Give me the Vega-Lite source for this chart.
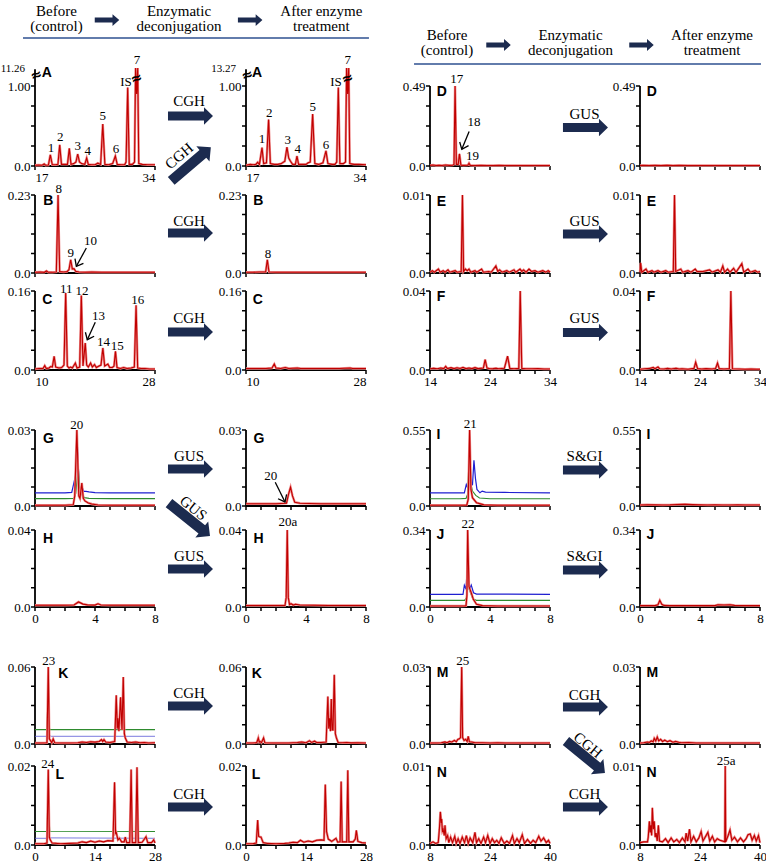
{"$schema":"https://vega.github.io/schema/vega-lite/v6.json","background":"white","padding":0,"bounds":"flush","spacing":0,"align":"each","columns":7,
"config":{"view":{"stroke":null},"rule":{"clip":false},"axis":{"domainColor":"#000","domainWidth":1.8,"tickColor":"#000","tickWidth":1.5,"tickSize":4,"labelFont":"Liberation Serif","labelFontSize":13,"labelColor":"#000","grid":false,"labelPadding":5,"labelOverlap":false,"labelFlush":false,"labelBound":false}},
"concat":[
{"width":120,"height":83,"data":{"values":[{}]},"layer":[
{"mark":{"type":"rule","color":"#2e5090","strokeWidth":1.6},"encoding":{"x":{"datum":-0.1,"scale":{"domain":[0,1]},"axis":null},"x2":{"datum":2.783},"y":{"datum":0.578,"scale":{"domain":[0,1]},"axis":null}}},
{"mark":{"type":"text","text":["Before","(control)"],"font":"Liberation Serif","fontSize":15,"lineHeight":15,"align":"center","baseline":"top"},"encoding":{"x":{"datum":0.179,"scale":{"domain":[0,1]},"axis":null},"y":{"datum":0.99,"scale":{"domain":[0,1]},"axis":null}}},
{"mark":{"type":"point","shape":"M-1,-0.2L0.45,-0.2L0.45,-0.48L1,0L0.45,0.48L0.45,0.2L-1,0.2Z","size":600,"filled":true,"opacity":1,"color":"#1c2b4f","strokeWidth":0},"encoding":{"x":{"datum":0.6,"scale":{"domain":[0,1]},"axis":null},"y":{"datum":0.795,"scale":{"domain":[0,1]},"axis":null}}},
{"mark":{"type":"text","text":["Enzymatic","deconjugation"],"font":"Liberation Serif","fontSize":15,"lineHeight":15,"align":"center","baseline":"top"},"encoding":{"x":{"datum":1.2,"scale":{"domain":[0,1]},"axis":null},"y":{"datum":0.99,"scale":{"domain":[0,1]},"axis":null}}},
{"mark":{"type":"point","shape":"M-1,-0.2L0.45,-0.2L0.45,-0.48L1,0L0.45,0.48L0.45,0.2L-1,0.2Z","size":600,"filled":true,"opacity":1,"color":"#1c2b4f","strokeWidth":0},"encoding":{"x":{"datum":1.793,"scale":{"domain":[0,1]},"axis":null},"y":{"datum":0.795,"scale":{"domain":[0,1]},"axis":null}}},
{"mark":{"type":"text","text":["After enzyme","treatment"],"font":"Liberation Serif","fontSize":15,"lineHeight":15,"align":"center","baseline":"top"},"encoding":{"x":{"datum":2.386,"scale":{"domain":[0,1]},"axis":null},"y":{"datum":0.99,"scale":{"domain":[0,1]},"axis":null}}}
]},
{"width":91,"height":1,"data":{"values":[{}]},"mark":{"type":"point","opacity":0}},
{"width":120,"height":1,"data":{"values":[{}]},"mark":{"type":"point","opacity":0}},
{"width":64,"height":83,"data":{"values":[{}]},"mark":{"type":"point","opacity":0}},
{"width":120,"height":83,"data":{"values":[{}]},"layer":[
{"mark":{"type":"rule","color":"#2e5090","strokeWidth":1.6},"encoding":{"x":{"datum":-0.133,"scale":{"domain":[0,1]},"axis":null},"x2":{"datum":2.758},"y":{"datum":0.265,"scale":{"domain":[0,1]},"axis":null}}},
{"mark":{"type":"text","text":["Before","(control)"],"font":"Liberation Serif","fontSize":15,"lineHeight":15,"align":"center","baseline":"top"},"encoding":{"x":{"datum":0.142,"scale":{"domain":[0,1]},"axis":null},"y":{"datum":0.694,"scale":{"domain":[0,1]},"axis":null}}},
{"mark":{"type":"point","shape":"M-1,-0.2L0.45,-0.2L0.45,-0.48L1,0L0.45,0.48L0.45,0.2L-1,0.2Z","size":600,"filled":true,"opacity":1,"color":"#1c2b4f","strokeWidth":0},"encoding":{"x":{"datum":0.571,"scale":{"domain":[0,1]},"axis":null},"y":{"datum":0.494,"scale":{"domain":[0,1]},"axis":null}}},
{"mark":{"type":"text","text":["Enzymatic","deconjugation"],"font":"Liberation Serif","fontSize":15,"lineHeight":15,"align":"center","baseline":"top"},"encoding":{"x":{"datum":1.171,"scale":{"domain":[0,1]},"axis":null},"y":{"datum":0.694,"scale":{"domain":[0,1]},"axis":null}}},
{"mark":{"type":"point","shape":"M-1,-0.2L0.45,-0.2L0.45,-0.48L1,0L0.45,0.48L0.45,0.2L-1,0.2Z","size":600,"filled":true,"opacity":1,"color":"#1c2b4f","strokeWidth":0},"encoding":{"x":{"datum":1.7625,"scale":{"domain":[0,1]},"axis":null},"y":{"datum":0.494,"scale":{"domain":[0,1]},"axis":null}}},
{"mark":{"type":"text","text":["After enzyme","treatment"],"font":"Liberation Serif","fontSize":15,"lineHeight":15,"align":"center","baseline":"top"},"encoding":{"x":{"datum":2.35,"scale":{"domain":[0,1]},"axis":null},"y":{"datum":0.694,"scale":{"domain":[0,1]},"axis":null}}}
]},
{"width":90,"height":1,"data":{"values":[{}]},"mark":{"type":"point","opacity":0}},
{"width":120,"height":1,"data":{"values":[{}]},"mark":{"type":"point","opacity":0}},

{"width":120,"height":80,"data":{"values":[{"x":17,"y":0.01},{"x":17.5,"y":0.012},{"x":18.0,"y":0.01},{"x":18.3,"y":0.025},{"x":18.5,"y":0.01},{"x":18.9,"y":0.012},{"x":19.17,"y":0.14},{"x":19.45,"y":0.015},{"x":19.9,"y":0.015},{"x":20.25,"y":0.02},{"x":20.5,"y":0.265},{"x":20.75,"y":0.02},{"x":21.2,"y":0.02},{"x":21.6,"y":0.02},{"x":21.86,"y":0.22},{"x":22.1,"y":0.02},{"x":22.5,"y":0.03},{"x":22.8,"y":0.05},{"x":23.05,"y":0.15},{"x":23.3,"y":0.05},{"x":23.6,"y":0.03},{"x":24.05,"y":0.02},{"x":24.32,"y":0.1},{"x":24.55,"y":0.02},{"x":25.0,"y":0.015},{"x":25.5,"y":0.015},{"x":25.9,"y":0.035},{"x":26.3,"y":0.02},{"x":26.6,"y":0.525},{"x":26.9,"y":0.02},{"x":27.4,"y":0.015},{"x":28.0,"y":0.03},{"x":28.38,"y":0.125},{"x":28.65,"y":0.02},{"x":29.2,"y":0.015},{"x":29.7,"y":0.015},{"x":29.9,"y":0.05},{"x":30.13,"y":0.98},{"x":30.35,"y":0.02},{"x":30.8,"y":0.02},{"x":31.1,"y":0.05},{"x":31.25,"y":1.225},{"x":31.4,"y":0.9},{"x":31.55,"y":1.225},{"x":31.7,"y":0.03},{"x":32.2,"y":0.02},{"x":33,"y":0.015},{"x":34,"y":0.015}]},
"layer":[
{"data":{"values":[{}]},"mark":{"type":"rule","color":"#000","strokeWidth":1.8,"clip":false},"encoding":{"x":{"datum":17},"x2":{"datum":17},"y":{"datum":0},"y2":{"datum":1.21}}},
{"data":{"values":[{}]},"mark":{"type":"rule","color":"#000","strokeWidth":1.8,"clip":false},"encoding":{"x":{"datum":17},"x2":{"datum":34},"y":{"datum":0},"y2":{"datum":0}}},
{"data":{"values":[{"v":0},{"v":0.25},{"v":0.5},{"v":0.75},{"v":1}]},"mark":{"type":"rule","color":"#000","strokeWidth":1.5,"clip":false},"encoding":{"y":{"field":"v","type":"quantitative"},"y2":{"field":"v"},"x":{"datum":16.43},"x2":{"datum":17}}},
{"data":{"values":[{"v":17},{"v":34}]},"mark":{"type":"rule","color":"#000","strokeWidth":1.5,"clip":false},"encoding":{"x":{"field":"v","type":"quantitative"},"x2":{"field":"v"},"y":{"datum":0},"y2":{"datum":-0.05}}},
{"mark":{"type":"line","color":"#ee8a8a","strokeWidth":2.4,"clip":false},"encoding":{"x":{"field":"x","type":"quantitative","scale":{"domain":[17,34],"nice":false,"zero":false},"axis":{"title":null,"domain":false,"ticks":false,"labelPadding":5,"labelOverlap":false,"values":[17,34],"labelFlush":true}},"y":{"field":"y","type":"quantitative","scale":{"domain":[0,1],"nice":false},"axis":{"title":null,"domain":false,"ticks":false,"labelPadding":5,"labelOverlap":false,"values":[0,0.25,0.5,0.75,1],"labelExpr":"datum.value == 0 ? '0.0' : datum.value == 0.5 ? '0.50' : datum.value == 1 ? '1.00' : ''"}}}},
{"mark":{"type":"line","color":"#c00000","strokeWidth":1.1,"clip":false},"encoding":{"x":{"field":"x","type":"quantitative"},"y":{"field":"y","type":"quantitative"}}},
{"data":{"values":[{"t":"A"}]},"mark":{"type":"text","font":"Liberation Sans","fontWeight":"bold","fontSize":14,"align":"left","baseline":"alphabetic"},"encoding":{"x":{"datum":17.95},"y":{"datum":1.11},"text":{"field":"t"}}},
{"data":{"values":[{"x":19.27,"y":0.225,"label":"1"},{"x":20.59,"y":0.36,"label":"2"},{"x":23.05,"y":0.246,"label":"3"},{"x":24.46,"y":0.19,"label":"4"},{"x":26.59,"y":0.62,"label":"5"},{"x":28.475,"y":0.216,"label":"6"},{"x":29.89,"y":1.046,"label":"IS"},{"x":31.45,"y":1.33,"label":"7"}]},"mark":{"type":"text","font":"Liberation Serif","fontSize":13,"align":"center","baseline":"middle"},"encoding":{"x":{"field":"x","type":"quantitative"},"y":{"field":"y","type":"quantitative"},"text":{"field":"label"}}},
{"data":{"values":[{"t":"≈"}]},"mark":{"type":"text","font":"DejaVu Sans","fontSize":14,"fontWeight":"bold","angle":340,"align":"center","baseline":"middle"},"encoding":{"x":{"datum":17.2},"y":{"datum":1.13},"text":{"field":"t"}}},
{"data":{"values":[{"t":"≈"}]},"mark":{"type":"text","font":"DejaVu Sans","fontSize":14,"fontWeight":"bold","angle":340,"align":"center","baseline":"middle"},"encoding":{"x":{"datum":31.4},"y":{"datum":1.09},"text":{"field":"t"}}},
{"data":{"values":[{"t":"11.26"}]},"mark":{"type":"text","font":"Liberation Serif","fontSize":11,"align":"right","baseline":"middle"},"encoding":{"x":{"datum":15.6},"y":{"datum":1.21},"text":{"field":"t"}}}
]},
{"width":91,"height":80,"data":{"values":[{}]},"layer":[
{"mark":{"type":"point","shape":"M-1,-0.2L0.6,-0.2L0.6,-0.39L1,0L0.6,0.39L0.6,0.2L-1,0.2Z","size":2025,"filled":true,"opacity":1,"color":"#1c2b4f","strokeWidth":0},"encoding":{"x":{"datum":0.39,"scale":{"domain":[0,1]},"axis":null},"y":{"datum":0.625,"scale":{"domain":[0,1]},"axis":null}}},
{"mark":{"type":"text","text":"CGH","font":"Liberation Serif","fontSize":15,"align":"center","baseline":"middle"},"encoding":{"x":{"datum":0.374,"scale":{"domain":[0,1]},"axis":null},"y":{"datum":0.8125,"scale":{"domain":[0,1]},"axis":null}}},
{"mark":{"type":"point","shape":"M-1,-0.2L0.6,-0.2L0.6,-0.39L1,0L0.6,0.39L0.6,0.2L-1,0.2Z","size":2704,"angle":319.6,"filled":true,"opacity":1,"color":"#1c2b4f","strokeWidth":0},"encoding":{"x":{"datum":0.396,"scale":{"domain":[0,1]},"axis":null},"y":{"datum":0.025,"scale":{"domain":[0,1]},"axis":null}}},
{"mark":{"type":"text","text":"CGH","angle":319.6,"font":"Liberation Serif","fontSize":15,"align":"center","baseline":"middle"},"encoding":{"x":{"datum":0.264,"scale":{"domain":[0,1]},"axis":null},"y":{"datum":0.125,"scale":{"domain":[0,1]},"axis":null}}}
]},
{"width":120,"height":80,"data":{"values":[{"x":17,"y":0.01},{"x":17.6,"y":0.02},{"x":18.0,"y":0.015},{"x":18.4,"y":0.02},{"x":18.65,"y":0.045},{"x":18.9,"y":0.02},{"x":19.27,"y":0.23},{"x":19.5,"y":0.03},{"x":19.9,"y":0.04},{"x":20.2,"y":0.58},{"x":20.45,"y":0.03},{"x":21.0,"y":0.02},{"x":21.5,"y":0.02},{"x":22.0,"y":0.03},{"x":22.5,"y":0.06},{"x":22.8,"y":0.235},{"x":23.05,"y":0.1},{"x":23.3,"y":0.06},{"x":23.6,"y":0.02},{"x":24.0,"y":0.02},{"x":24.22,"y":0.125},{"x":24.45,"y":0.02},{"x":25.0,"y":0.02},{"x":25.5,"y":0.02},{"x":25.8,"y":0.04},{"x":26.1,"y":0.05},{"x":26.44,"y":0.65},{"x":26.75,"y":0.03},{"x":27.3,"y":0.02},{"x":27.9,"y":0.04},{"x":28.33,"y":0.19},{"x":28.6,"y":0.03},{"x":29.2,"y":0.02},{"x":29.6,"y":0.02},{"x":29.85,"y":0.05},{"x":30.08,"y":0.98},{"x":30.3,"y":0.03},{"x":30.8,"y":0.03},{"x":31.1,"y":0.05},{"x":31.25,"y":1.225},{"x":31.4,"y":0.9},{"x":31.55,"y":1.225},{"x":31.7,"y":0.03},{"x":32.3,"y":0.02},{"x":33,"y":0.02},{"x":34,"y":0.015}]},
"layer":[
{"data":{"values":[{}]},"mark":{"type":"rule","color":"#000","strokeWidth":1.8,"clip":false},"encoding":{"x":{"datum":17},"x2":{"datum":17},"y":{"datum":0},"y2":{"datum":1.21}}},
{"data":{"values":[{}]},"mark":{"type":"rule","color":"#000","strokeWidth":1.8,"clip":false},"encoding":{"x":{"datum":17},"x2":{"datum":34},"y":{"datum":0},"y2":{"datum":0}}},
{"data":{"values":[{"v":0},{"v":0.25},{"v":0.5},{"v":0.75},{"v":1}]},"mark":{"type":"rule","color":"#000","strokeWidth":1.5,"clip":false},"encoding":{"y":{"field":"v","type":"quantitative"},"y2":{"field":"v"},"x":{"datum":16.43},"x2":{"datum":17}}},
{"data":{"values":[{"v":17},{"v":34}]},"mark":{"type":"rule","color":"#000","strokeWidth":1.5,"clip":false},"encoding":{"x":{"field":"v","type":"quantitative"},"x2":{"field":"v"},"y":{"datum":0},"y2":{"datum":-0.05}}},
{"mark":{"type":"line","color":"#ee8a8a","strokeWidth":2.4,"clip":false},"encoding":{"x":{"field":"x","type":"quantitative","scale":{"domain":[17,34],"nice":false,"zero":false},"axis":{"title":null,"domain":false,"ticks":false,"labelPadding":5,"labelOverlap":false,"values":[17,34],"labelFlush":true}},"y":{"field":"y","type":"quantitative","scale":{"domain":[0,1],"nice":false},"axis":{"title":null,"domain":false,"ticks":false,"labelPadding":5,"labelOverlap":false,"values":[0,0.25,0.5,0.75,1],"labelExpr":"datum.value == 0 ? '0.0' : datum.value == 0.5 ? '0.50' : datum.value == 1 ? '1.00' : ''"}}}},
{"mark":{"type":"line","color":"#c00000","strokeWidth":1.1,"clip":false},"encoding":{"x":{"field":"x","type":"quantitative"},"y":{"field":"y","type":"quantitative"}}},
{"data":{"values":[{"t":"A"}]},"mark":{"type":"text","font":"Liberation Sans","fontWeight":"bold","fontSize":14,"align":"left","baseline":"alphabetic"},"encoding":{"x":{"datum":17.85},"y":{"datum":1.11},"text":{"field":"t"}}},
{"data":{"values":[{"x":19.27,"y":0.3375,"label":"1"},{"x":20.3,"y":0.66,"label":"2"},{"x":22.9,"y":0.33,"label":"3"},{"x":24.32,"y":0.216,"label":"4"},{"x":26.45,"y":0.7375,"label":"5"},{"x":28.33,"y":0.266,"label":"6"},{"x":29.75,"y":1.046,"label":"IS"},{"x":31.4,"y":1.33,"label":"7"}]},"mark":{"type":"text","font":"Liberation Serif","fontSize":13,"align":"center","baseline":"middle"},"encoding":{"x":{"field":"x","type":"quantitative"},"y":{"field":"y","type":"quantitative"},"text":{"field":"label"}}},
{"data":{"values":[{"t":"≈"}]},"mark":{"type":"text","font":"DejaVu Sans","fontSize":14,"fontWeight":"bold","angle":340,"align":"center","baseline":"middle"},"encoding":{"x":{"datum":17.2},"y":{"datum":1.13},"text":{"field":"t"}}},
{"data":{"values":[{"t":"≈"}]},"mark":{"type":"text","font":"DejaVu Sans","fontSize":14,"fontWeight":"bold","angle":340,"align":"center","baseline":"middle"},"encoding":{"x":{"datum":31.4},"y":{"datum":1.09},"text":{"field":"t"}}},
{"data":{"values":[{"t":"13.27"}]},"mark":{"type":"text","font":"Liberation Serif","fontSize":11,"align":"right","baseline":"middle"},"encoding":{"x":{"datum":15.6},"y":{"datum":1.21},"text":{"field":"t"}}}
]},
{"width":64,"height":109,"data":{"values":[{}]},"mark":{"type":"point","opacity":0}},
{"width":120,"height":80,"data":{"values":[{"x":14,"y":0.004},{"x":14.5,"y":0.006},{"x":15,"y":0.003},{"x":15.5,"y":0.005},{"x":16,"y":0.003},{"x":16.6,"y":0.006},{"x":17.2,"y":0.004},{"x":17.8,"y":0.005},{"x":18.0,"y":0.01},{"x":18.18,"y":0.49},{"x":18.4,"y":0.01},{"x":18.7,"y":0.01},{"x":18.91,"y":0.074},{"x":19.15,"y":0.005},{"x":19.6,"y":0.004},{"x":20.3,"y":0.005},{"x":20.5,"y":0.017},{"x":20.7,"y":0.004},{"x":21.5,"y":0.003},{"x":22.5,"y":0.004},{"x":23.5,"y":0.003},{"x":24.5,"y":0.003},{"x":25.5,"y":0.004},{"x":26.5,"y":0.003},{"x":28,"y":0.003},{"x":30,"y":0.003},{"x":32,"y":0.003},{"x":34,"y":0.003}]},
"layer":[
{"data":{"values":[{}]},"mark":{"type":"rule","color":"#000","strokeWidth":1.8,"clip":false},"encoding":{"x":{"datum":14},"x2":{"datum":14},"y":{"datum":0},"y2":{"datum":0.49}}},
{"data":{"values":[{}]},"mark":{"type":"rule","color":"#000","strokeWidth":1.8,"clip":false},"encoding":{"x":{"datum":14},"x2":{"datum":34},"y":{"datum":0},"y2":{"datum":0}}},
{"data":{"values":[{"v":0},{"v":0.1225},{"v":0.245},{"v":0.3675},{"v":0.49}]},"mark":{"type":"rule","color":"#000","strokeWidth":1.5,"clip":false},"encoding":{"y":{"field":"v","type":"quantitative"},"y2":{"field":"v"},"x":{"datum":13.333},"x2":{"datum":14}}},
{"data":{"values":[{"v":14},{"v":16.5},{"v":19},{"v":21.5},{"v":24},{"v":26.5},{"v":29},{"v":31.5},{"v":34}]},"mark":{"type":"rule","color":"#000","strokeWidth":1.5,"clip":false},"encoding":{"x":{"field":"v","type":"quantitative"},"x2":{"field":"v"},"y":{"datum":0},"y2":{"datum":-0.0245}}},
{"mark":{"type":"line","color":"#ee8a8a","strokeWidth":2.4,"clip":false},"encoding":{"x":{"field":"x","type":"quantitative","scale":{"domain":[14,34],"nice":false,"zero":false},"axis":{"title":null,"domain":false,"ticks":false,"labelPadding":5,"labelOverlap":false,"values":[14,16.5,19,21.5,24,26.5,29,31.5,34],"labels":false}},"y":{"field":"y","type":"quantitative","scale":{"domain":[0,0.49],"nice":false},"axis":{"title":null,"domain":false,"ticks":false,"labelPadding":5,"labelOverlap":false,"values":[0,0.1225,0.245,0.3675,0.49],"labelExpr":"datum.value == 0 ? '0.0' : datum.value > 0.48 ? '0.49' : ''"}}}},
{"mark":{"type":"line","color":"#c00000","strokeWidth":1.1,"clip":false},"encoding":{"x":{"field":"x","type":"quantitative"},"y":{"field":"y","type":"quantitative"}}},
{"data":{"values":[{"t":"D"}]},"mark":{"type":"text","font":"Liberation Sans","fontWeight":"bold","fontSize":14,"align":"left","baseline":"alphabetic"},"encoding":{"x":{"datum":15.12},"y":{"datum":0.43},"text":{"field":"t"}}},
{"data":{"values":[{"x":18.46,"y":0.532,"label":"17"},{"x":21.35,"y":0.271,"label":"18"},{"x":21.08,"y":0.064,"label":"19"}]},"mark":{"type":"text","font":"Liberation Serif","fontSize":13,"align":"center","baseline":"middle"},"encoding":{"x":{"field":"x","type":"quantitative"},"y":{"field":"y","type":"quantitative"},"text":{"field":"label"}}},
{"data":{"values":[{}]},"mark":{"type":"rule","color":"#000","strokeWidth":1.3,"clip":false},"encoding":{"x":{"datum":20.52},"y":{"datum":0.212},"x2":{"datum":19.3},"y2":{"datum":0.102}}},
{"data":{"values":[{}]},"mark":{"type":"point","shape":"M-1,-0.8L0,0L-1,0.8","size":144,"filled":false,"color":"#000","strokeWidth":1.3,"opacity":1,"angle":112.9},"encoding":{"x":{"datum":19.3},"y":{"datum":0.102}}}
]},
{"width":90,"height":80,"data":{"values":[{}]},"layer":[
{"mark":{"type":"point","shape":"M-1,-0.2L0.6,-0.2L0.6,-0.39L1,0L0.6,0.39L0.6,0.2L-1,0.2Z","size":2025,"filled":true,"opacity":1,"color":"#1c2b4f","strokeWidth":0},"encoding":{"x":{"datum":0.394,"scale":{"domain":[0,1]},"axis":null},"y":{"datum":0.481,"scale":{"domain":[0,1]},"axis":null}}},
{"mark":{"type":"text","text":"GUS","font":"Liberation Serif","fontSize":15,"align":"center","baseline":"middle"},"encoding":{"x":{"datum":0.383,"scale":{"domain":[0,1]},"axis":null},"y":{"datum":0.649,"scale":{"domain":[0,1]},"axis":null}}}
]},
{"width":120,"height":80,"data":{"values":[{"x":14,"y":0.003},{"x":14.5,"y":0.004},{"x":15.5,"y":0.003},{"x":16.5,"y":0.004},{"x":17.5,"y":0.003},{"x":18.5,"y":0.005},{"x":19.5,"y":0.003},{"x":20.5,"y":0.004},{"x":22,"y":0.003},{"x":24,"y":0.003},{"x":26,"y":0.003},{"x":28,"y":0.003},{"x":30,"y":0.003},{"x":32,"y":0.003},{"x":34,"y":0.003}]},
"layer":[
{"data":{"values":[{}]},"mark":{"type":"rule","color":"#000","strokeWidth":1.8,"clip":false},"encoding":{"x":{"datum":14},"x2":{"datum":14},"y":{"datum":0},"y2":{"datum":0.49}}},
{"data":{"values":[{}]},"mark":{"type":"rule","color":"#000","strokeWidth":1.8,"clip":false},"encoding":{"x":{"datum":14},"x2":{"datum":34},"y":{"datum":0},"y2":{"datum":0}}},
{"data":{"values":[{"v":0},{"v":0.1225},{"v":0.245},{"v":0.3675},{"v":0.49}]},"mark":{"type":"rule","color":"#000","strokeWidth":1.5,"clip":false},"encoding":{"y":{"field":"v","type":"quantitative"},"y2":{"field":"v"},"x":{"datum":13.333},"x2":{"datum":14}}},
{"data":{"values":[{"v":14},{"v":16.5},{"v":19},{"v":21.5},{"v":24},{"v":26.5},{"v":29},{"v":31.5},{"v":34}]},"mark":{"type":"rule","color":"#000","strokeWidth":1.5,"clip":false},"encoding":{"x":{"field":"v","type":"quantitative"},"x2":{"field":"v"},"y":{"datum":0},"y2":{"datum":-0.0245}}},
{"mark":{"type":"line","color":"#ee8a8a","strokeWidth":2.4,"clip":false},"encoding":{"x":{"field":"x","type":"quantitative","scale":{"domain":[14,34],"nice":false,"zero":false},"axis":{"title":null,"domain":false,"ticks":false,"labelPadding":5,"labelOverlap":false,"values":[14,16.5,19,21.5,24,26.5,29,31.5,34],"labels":false}},"y":{"field":"y","type":"quantitative","scale":{"domain":[0,0.49],"nice":false},"axis":{"title":null,"domain":false,"ticks":false,"labelPadding":5,"labelOverlap":false,"values":[0,0.1225,0.245,0.3675,0.49],"labelExpr":"datum.value == 0 ? '0.0' : datum.value > 0.48 ? '0.49' : ''"}}}},
{"mark":{"type":"line","color":"#c00000","strokeWidth":1.1,"clip":false},"encoding":{"x":{"field":"x","type":"quantitative"},"y":{"field":"y","type":"quantitative"}}},
{"data":{"values":[{"t":"D"}]},"mark":{"type":"text","font":"Liberation Sans","fontWeight":"bold","fontSize":14,"align":"left","baseline":"alphabetic"},"encoding":{"x":{"datum":15.12},"y":{"datum":0.43},"text":{"field":"t"}}}
]},

{"width":120,"height":78,"data":{"values":[{"x":10,"y":0.002},{"x":10.8,"y":0.003},{"x":11.4,"y":0.002},{"x":11.72,"y":0.006},{"x":12.0,"y":0.002},{"x":12.6,"y":0.002},{"x":13.2,"y":0.003},{"x":13.46,"y":0.23},{"x":13.7,"y":0.004},{"x":14.3,"y":0.003},{"x":14.8,"y":0.004},{"x":15.1,"y":0.01},{"x":15.35,"y":0.039},{"x":15.6,"y":0.012},{"x":15.85,"y":0.0127},{"x":16.1,"y":0.005},{"x":16.6,"y":0.003},{"x":17.5,"y":0.002},{"x":18.5,"y":0.003},{"x":20,"y":0.002},{"x":21.5,"y":0.002},{"x":23,"y":0.002},{"x":24.5,"y":0.002},{"x":26,"y":0.002},{"x":28,"y":0.002}]},
"layer":[
{"data":{"values":[{}]},"mark":{"type":"rule","color":"#000","strokeWidth":1.8,"clip":false},"encoding":{"x":{"datum":10},"x2":{"datum":10},"y":{"datum":0},"y2":{"datum":0.23}}},
{"data":{"values":[{}]},"mark":{"type":"rule","color":"#000","strokeWidth":1.8,"clip":false},"encoding":{"x":{"datum":10},"x2":{"datum":28},"y":{"datum":0},"y2":{"datum":0}}},
{"data":{"values":[{"v":0},{"v":0.0575},{"v":0.115},{"v":0.1725},{"v":0.23}]},"mark":{"type":"rule","color":"#000","strokeWidth":1.5,"clip":false},"encoding":{"y":{"field":"v","type":"quantitative"},"y2":{"field":"v"},"x":{"datum":9.4},"x2":{"datum":10}}},
{"data":{"values":[{"v":10},{"v":28}]},"mark":{"type":"rule","color":"#000","strokeWidth":1.5,"clip":false},"encoding":{"x":{"field":"v","type":"quantitative"},"x2":{"field":"v"},"y":{"datum":0},"y2":{"datum":-0.0118}}},
{"mark":{"type":"line","color":"#ee8a8a","strokeWidth":2.4,"clip":false},"encoding":{"x":{"field":"x","type":"quantitative","scale":{"domain":[10,28],"nice":false,"zero":false},"axis":{"title":null,"domain":false,"ticks":false,"labelPadding":5,"labelOverlap":false,"values":[10,28],"labels":false}},"y":{"field":"y","type":"quantitative","scale":{"domain":[0,0.23],"nice":false},"axis":{"title":null,"domain":false,"ticks":false,"labelPadding":5,"labelOverlap":false,"values":[0,0.0575,0.115,0.1725,0.23],"labelExpr":"datum.value == 0 ? '0.0' : datum.value > 0.22 ? '0.23' : ''"}}}},
{"mark":{"type":"line","color":"#c00000","strokeWidth":1.1,"clip":false},"encoding":{"x":{"field":"x","type":"quantitative"},"y":{"field":"y","type":"quantitative"}}},
{"data":{"values":[{"t":"B"}]},"mark":{"type":"text","font":"Liberation Sans","fontWeight":"bold","fontSize":14,"align":"left","baseline":"alphabetic"},"encoding":{"x":{"datum":11.22},"y":{"datum":0.201},"text":{"field":"t"}}},
{"data":{"values":[{"x":13.56,"y":0.2477,"label":"8"},{"x":15.35,"y":0.059,"label":"9"},{"x":18.34,"y":0.0934,"label":"10"}]},"mark":{"type":"text","font":"Liberation Serif","fontSize":13,"align":"center","baseline":"middle"},"encoding":{"x":{"field":"x","type":"quantitative"},"y":{"field":"y","type":"quantitative"},"text":{"field":"label"}}},
{"data":{"values":[{}]},"mark":{"type":"rule","color":"#000","strokeWidth":1.3,"clip":false},"encoding":{"x":{"datum":17.7},"y":{"datum":0.0737},"x2":{"datum":16.2},"y2":{"datum":0.0198}}},
{"data":{"values":[{}]},"mark":{"type":"point","shape":"M-1,-0.8L0,0L-1,0.8","size":144,"filled":false,"color":"#000","strokeWidth":1.3,"opacity":1,"angle":118.6},"encoding":{"x":{"datum":16.2},"y":{"datum":0.0198}}}
]},
{"width":91,"height":78,"data":{"values":[{}]},"layer":[
{"mark":{"type":"point","shape":"M-1,-0.2L0.6,-0.2L0.6,-0.39L1,0L0.6,0.39L0.6,0.2L-1,0.2Z","size":2025,"filled":true,"opacity":1,"color":"#1c2b4f","strokeWidth":0},"encoding":{"x":{"datum":0.39,"scale":{"domain":[0,1]},"axis":null},"y":{"datum":0.513,"scale":{"domain":[0,1]},"axis":null}}},
{"mark":{"type":"text","text":"CGH","font":"Liberation Serif","fontSize":15,"align":"center","baseline":"middle"},"encoding":{"x":{"datum":0.374,"scale":{"domain":[0,1]},"axis":null},"y":{"datum":0.667,"scale":{"domain":[0,1]},"axis":null}}}
]},
{"width":120,"height":78,"data":{"values":[{"x":10,"y":0.002},{"x":11,"y":0.002},{"x":12,"y":0.003},{"x":12.95,"y":0.003},{"x":13.2,"y":0.039},{"x":13.45,"y":0.003},{"x":14.5,"y":0.002},{"x":16,"y":0.002},{"x":18,"y":0.002},{"x":20,"y":0.002},{"x":22,"y":0.002},{"x":24,"y":0.002},{"x":26,"y":0.002},{"x":28,"y":0.002}]},
"layer":[
{"data":{"values":[{}]},"mark":{"type":"rule","color":"#000","strokeWidth":1.8,"clip":false},"encoding":{"x":{"datum":10},"x2":{"datum":10},"y":{"datum":0},"y2":{"datum":0.23}}},
{"data":{"values":[{}]},"mark":{"type":"rule","color":"#000","strokeWidth":1.8,"clip":false},"encoding":{"x":{"datum":10},"x2":{"datum":28},"y":{"datum":0},"y2":{"datum":0}}},
{"data":{"values":[{"v":0},{"v":0.0575},{"v":0.115},{"v":0.1725},{"v":0.23}]},"mark":{"type":"rule","color":"#000","strokeWidth":1.5,"clip":false},"encoding":{"y":{"field":"v","type":"quantitative"},"y2":{"field":"v"},"x":{"datum":9.4},"x2":{"datum":10}}},
{"data":{"values":[{"v":10},{"v":28}]},"mark":{"type":"rule","color":"#000","strokeWidth":1.5,"clip":false},"encoding":{"x":{"field":"v","type":"quantitative"},"x2":{"field":"v"},"y":{"datum":0},"y2":{"datum":-0.0118}}},
{"mark":{"type":"line","color":"#ee8a8a","strokeWidth":2.4,"clip":false},"encoding":{"x":{"field":"x","type":"quantitative","scale":{"domain":[10,28],"nice":false,"zero":false},"axis":{"title":null,"domain":false,"ticks":false,"labelPadding":5,"labelOverlap":false,"values":[10,28],"labels":false}},"y":{"field":"y","type":"quantitative","scale":{"domain":[0,0.23],"nice":false},"axis":{"title":null,"domain":false,"ticks":false,"labelPadding":5,"labelOverlap":false,"values":[0,0.0575,0.115,0.1725,0.23],"labelExpr":"datum.value == 0 ? '0.0' : datum.value > 0.22 ? '0.23' : ''"}}}},
{"mark":{"type":"line","color":"#c00000","strokeWidth":1.1,"clip":false},"encoding":{"x":{"field":"x","type":"quantitative"},"y":{"field":"y","type":"quantitative"}}},
{"data":{"values":[{"t":"B"}]},"mark":{"type":"text","font":"Liberation Sans","fontWeight":"bold","fontSize":14,"align":"left","baseline":"alphabetic"},"encoding":{"x":{"datum":11.1},"y":{"datum":0.201},"text":{"field":"t"}}},
{"data":{"values":[{"x":13.3,"y":0.057,"label":"8"}]},"mark":{"type":"text","font":"Liberation Serif","fontSize":13,"align":"center","baseline":"middle"},"encoding":{"x":{"field":"x","type":"quantitative"},"y":{"field":"y","type":"quantitative"},"text":{"field":"label"}}}
]},
{"width":64,"height":96,"data":{"values":[{}]},"mark":{"type":"point","opacity":0}},
{"width":120,"height":78,"data":{"values":[{"x":14,"y":0.0001},{"x":14.4,"y":0.0003},{"x":14.7,"y":0.0001},{"x":15.4,"y":0.0005},{"x":15.7,"y":0.0001},{"x":16.2,"y":0.0003},{"x":16.5,"y":0.0001},{"x":17.0,"y":0.0004},{"x":17.3,"y":0.0001},{"x":18.2,"y":0.0003},{"x":18.5,"y":0.0001},{"x":19.2,"y":0.0002},{"x":19.41,"y":0.01},{"x":19.6,"y":0.0002},{"x":19.9,"y":0.0005},{"x":20.2,"y":0.0003},{"x":20.5,"y":0.0005},{"x":20.8,"y":0.0001},{"x":21.5,"y":0.0003},{"x":21.8,"y":0.0001},{"x":22.6,"y":0.0005},{"x":22.9,"y":0.0001},{"x":23.8,"y":0.0002},{"x":24.2,"y":0.0001},{"x":24.98,"y":0.0009},{"x":25.3,"y":0.0002},{"x":25.6,"y":0.0004},{"x":26,"y":0.0001},{"x":26.8,"y":0.0003},{"x":27.2,"y":0.0001},{"x":28,"y":0.0004},{"x":28.3,"y":0.0001},{"x":29.0,"y":0.0005},{"x":29.3,"y":0.0002},{"x":29.6,"y":0.0004},{"x":30,"y":0.0001},{"x":30.5,"y":0.0005},{"x":30.9,"y":0.0002},{"x":31.5,"y":0.0003},{"x":32,"y":0.0001},{"x":32.8,"y":0.0003},{"x":33.3,"y":0.0001},{"x":33.7,"y":0.0003},{"x":34,"y":0.0001}]},
"layer":[
{"data":{"values":[{}]},"mark":{"type":"rule","color":"#000","strokeWidth":1.8,"clip":false},"encoding":{"x":{"datum":14},"x2":{"datum":14},"y":{"datum":0},"y2":{"datum":0.01}}},
{"data":{"values":[{}]},"mark":{"type":"rule","color":"#000","strokeWidth":1.8,"clip":false},"encoding":{"x":{"datum":14},"x2":{"datum":34},"y":{"datum":0},"y2":{"datum":0}}},
{"data":{"values":[{"v":0},{"v":0.0025},{"v":0.005},{"v":0.0075},{"v":0.01}]},"mark":{"type":"rule","color":"#000","strokeWidth":1.5,"clip":false},"encoding":{"y":{"field":"v","type":"quantitative"},"y2":{"field":"v"},"x":{"datum":13.333},"x2":{"datum":14}}},
{"data":{"values":[{"v":14},{"v":16.5},{"v":19},{"v":21.5},{"v":24},{"v":26.5},{"v":29},{"v":31.5},{"v":34}]},"mark":{"type":"rule","color":"#000","strokeWidth":1.5,"clip":false},"encoding":{"x":{"field":"v","type":"quantitative"},"x2":{"field":"v"},"y":{"datum":0},"y2":{"datum":-0.000513}}},
{"mark":{"type":"line","color":"#ee8a8a","strokeWidth":2.4,"clip":false},"encoding":{"x":{"field":"x","type":"quantitative","scale":{"domain":[14,34],"nice":false,"zero":false},"axis":{"title":null,"domain":false,"ticks":false,"labelPadding":5,"labelOverlap":false,"values":[14,16.5,19,21.5,24,26.5,29,31.5,34],"labels":false}},"y":{"field":"y","type":"quantitative","scale":{"domain":[0,0.01],"nice":false},"axis":{"title":null,"domain":false,"ticks":false,"labelPadding":5,"labelOverlap":false,"values":[0,0.0025,0.005,0.0075,0.01],"labelExpr":"datum.value == 0 ? '0.0' : datum.value > 0.0099 ? '0.01' : ''"}}}},
{"mark":{"type":"line","color":"#c00000","strokeWidth":1.1,"clip":false},"encoding":{"x":{"field":"x","type":"quantitative"},"y":{"field":"y","type":"quantitative"}}},
{"data":{"values":[{"t":"E"}]},"mark":{"type":"text","font":"Liberation Sans","fontWeight":"bold","fontSize":14,"align":"left","baseline":"alphabetic"},"encoding":{"x":{"datum":15.12},"y":{"datum":0.0086},"text":{"field":"t"}}}
]},
{"width":90,"height":78,"data":{"values":[{}]},"layer":[
{"mark":{"type":"point","shape":"M-1,-0.2L0.6,-0.2L0.6,-0.39L1,0L0.6,0.39L0.6,0.2L-1,0.2Z","size":2025,"filled":true,"opacity":1,"color":"#1c2b4f","strokeWidth":0},"encoding":{"x":{"datum":0.394,"scale":{"domain":[0,1]},"axis":null},"y":{"datum":0.5,"scale":{"domain":[0,1]},"axis":null}}},
{"mark":{"type":"text","text":"GUS","font":"Liberation Serif","fontSize":15,"align":"center","baseline":"middle"},"encoding":{"x":{"datum":0.383,"scale":{"domain":[0,1]},"axis":null},"y":{"datum":0.667,"scale":{"domain":[0,1]},"axis":null}}}
]},
{"width":120,"height":78,"data":{"values":[{"x":14,"y":0.0001},{"x":14.1,"y":0.0013},{"x":14.3,"y":0.0001},{"x":15.0,"y":0.0005},{"x":15.3,"y":0.0001},{"x":16.0,"y":0.0003},{"x":16.3,"y":0.0001},{"x":17.0,"y":0.0003},{"x":17.5,"y":0.0001},{"x":18.3,"y":0.0003},{"x":18.7,"y":0.0001},{"x":19.55,"y":0.0002},{"x":19.75,"y":0.01},{"x":19.95,"y":0.0002},{"x":20.8,"y":0.0005},{"x":21.1,"y":0.0001},{"x":22.0,"y":0.0003},{"x":22.5,"y":0.0001},{"x":23.2,"y":0.0005},{"x":23.5,"y":0.0002},{"x":24.5,"y":0.0002},{"x":25.6,"y":0.0004},{"x":26,"y":0.0001},{"x":27,"y":0.0004},{"x":27.4,"y":0.0001},{"x":27.8,"y":0.0009},{"x":28.1,"y":0.0001},{"x":28.6,"y":0.0005},{"x":29,"y":0.0001},{"x":29.6,"y":0.0006},{"x":30,"y":0.0001},{"x":30.97,"y":0.0012},{"x":31.3,"y":0.0001},{"x":32.0,"y":0.0005},{"x":32.4,"y":0.0001},{"x":33.2,"y":0.0003},{"x":33.6,"y":0.0001},{"x":34,"y":0.0002}]},
"layer":[
{"data":{"values":[{}]},"mark":{"type":"rule","color":"#000","strokeWidth":1.8,"clip":false},"encoding":{"x":{"datum":14},"x2":{"datum":14},"y":{"datum":0},"y2":{"datum":0.01}}},
{"data":{"values":[{}]},"mark":{"type":"rule","color":"#000","strokeWidth":1.8,"clip":false},"encoding":{"x":{"datum":14},"x2":{"datum":34},"y":{"datum":0},"y2":{"datum":0}}},
{"data":{"values":[{"v":0},{"v":0.0025},{"v":0.005},{"v":0.0075},{"v":0.01}]},"mark":{"type":"rule","color":"#000","strokeWidth":1.5,"clip":false},"encoding":{"y":{"field":"v","type":"quantitative"},"y2":{"field":"v"},"x":{"datum":13.333},"x2":{"datum":14}}},
{"data":{"values":[{"v":14},{"v":16.5},{"v":19},{"v":21.5},{"v":24},{"v":26.5},{"v":29},{"v":31.5},{"v":34}]},"mark":{"type":"rule","color":"#000","strokeWidth":1.5,"clip":false},"encoding":{"x":{"field":"v","type":"quantitative"},"x2":{"field":"v"},"y":{"datum":0},"y2":{"datum":-0.000513}}},
{"mark":{"type":"line","color":"#ee8a8a","strokeWidth":2.4,"clip":false},"encoding":{"x":{"field":"x","type":"quantitative","scale":{"domain":[14,34],"nice":false,"zero":false},"axis":{"title":null,"domain":false,"ticks":false,"labelPadding":5,"labelOverlap":false,"values":[14,16.5,19,21.5,24,26.5,29,31.5,34],"labels":false}},"y":{"field":"y","type":"quantitative","scale":{"domain":[0,0.01],"nice":false},"axis":{"title":null,"domain":false,"ticks":false,"labelPadding":5,"labelOverlap":false,"values":[0,0.0025,0.005,0.0075,0.01],"labelExpr":"datum.value == 0 ? '0.0' : datum.value > 0.0099 ? '0.01' : ''"}}}},
{"mark":{"type":"line","color":"#c00000","strokeWidth":1.1,"clip":false},"encoding":{"x":{"field":"x","type":"quantitative"},"y":{"field":"y","type":"quantitative"}}},
{"data":{"values":[{"t":"E"}]},"mark":{"type":"text","font":"Liberation Sans","fontWeight":"bold","fontSize":14,"align":"left","baseline":"alphabetic"},"encoding":{"x":{"datum":15.12},"y":{"datum":0.0086},"text":{"field":"t"}}}
]},

{"width":120,"height":79,"data":{"values":[{"x":10,"y":0.002},{"x":10.6,"y":0.003},{"x":11.2,"y":0.003},{"x":11.46,"y":0.0087},{"x":11.7,"y":0.003},{"x":12.1,"y":0.004},{"x":12.36,"y":0.007},{"x":12.6,"y":0.006},{"x":12.87,"y":0.0277},{"x":13.1,"y":0.006},{"x":13.6,"y":0.004},{"x":14.0,"y":0.005},{"x":14.35,"y":0.01},{"x":14.6,"y":0.156},{"x":14.85,"y":0.008},{"x":15.1,"y":0.004},{"x":15.35,"y":0.006},{"x":15.6,"y":0.004},{"x":16.05,"y":0.014},{"x":16.3,"y":0.004},{"x":16.7,"y":0.006},{"x":16.95,"y":0.151},{"x":17.2,"y":0.008},{"x":17.54,"y":0.0547},{"x":17.75,"y":0.01},{"x":18.0,"y":0.006},{"x":18.34,"y":0.014},{"x":18.6,"y":0.006},{"x":18.93,"y":0.011},{"x":19.2,"y":0.005},{"x":19.6,"y":0.008},{"x":19.9,"y":0.01},{"x":20.18,"y":0.0446},{"x":20.45,"y":0.008},{"x":20.93,"y":0.012},{"x":21.2,"y":0.005},{"x":21.6,"y":0.005},{"x":21.85,"y":0.008},{"x":22.07,"y":0.0379},{"x":22.3,"y":0.005},{"x":22.8,"y":0.003},{"x":23.3,"y":0.005},{"x":23.8,"y":0.003},{"x":24.4,"y":0.004},{"x":24.9,"y":0.006},{"x":25.16,"y":0.131},{"x":25.4,"y":0.004},{"x":25.9,"y":0.003},{"x":26.5,"y":0.003},{"x":27.2,"y":0.002},{"x":28,"y":0.002}]},
"layer":[
{"data":{"values":[{}]},"mark":{"type":"rule","color":"#000","strokeWidth":1.8,"clip":false},"encoding":{"x":{"datum":10},"x2":{"datum":10},"y":{"datum":0},"y2":{"datum":0.16}}},
{"data":{"values":[{}]},"mark":{"type":"rule","color":"#000","strokeWidth":1.8,"clip":false},"encoding":{"x":{"datum":10},"x2":{"datum":28},"y":{"datum":0},"y2":{"datum":0}}},
{"data":{"values":[{"v":0},{"v":0.04},{"v":0.08},{"v":0.12},{"v":0.16}]},"mark":{"type":"rule","color":"#000","strokeWidth":1.5,"clip":false},"encoding":{"y":{"field":"v","type":"quantitative"},"y2":{"field":"v"},"x":{"datum":9.4},"x2":{"datum":10}}},
{"data":{"values":[{"v":10},{"v":28}]},"mark":{"type":"rule","color":"#000","strokeWidth":1.5,"clip":false},"encoding":{"x":{"field":"v","type":"quantitative"},"x2":{"field":"v"},"y":{"datum":0},"y2":{"datum":-0.0081}}},
{"mark":{"type":"line","color":"#ee8a8a","strokeWidth":2.4,"clip":false},"encoding":{"x":{"field":"x","type":"quantitative","scale":{"domain":[10,28],"nice":false,"zero":false},"axis":{"title":null,"domain":false,"ticks":false,"labelPadding":5,"labelOverlap":false,"values":[10,28],"labelFlush":true}},"y":{"field":"y","type":"quantitative","scale":{"domain":[0,0.16],"nice":false},"axis":{"title":null,"domain":false,"ticks":false,"labelPadding":5,"labelOverlap":false,"values":[0,0.04,0.08,0.12,0.16],"labelExpr":"datum.value == 0 ? '0.0' : datum.value > 0.15 ? '0.16' : ''"}}}},
{"mark":{"type":"line","color":"#c00000","strokeWidth":1.1,"clip":false},"encoding":{"x":{"field":"x","type":"quantitative"},"y":{"field":"y","type":"quantitative"}}},
{"data":{"values":[{"t":"C"}]},"mark":{"type":"text","font":"Liberation Sans","fontWeight":"bold","fontSize":14,"align":"left","baseline":"alphabetic"},"encoding":{"x":{"datum":11.07},"y":{"datum":0.134},"text":{"field":"t"}}},
{"data":{"values":[{"x":14.7,"y":0.164,"label":"11"},{"x":17.05,"y":0.161,"label":"12"},{"x":19.53,"y":0.11,"label":"13"},{"x":20.28,"y":0.056,"label":"14"},{"x":22.32,"y":0.048,"label":"15"},{"x":25.4,"y":0.142,"label":"16"}]},"mark":{"type":"text","font":"Liberation Serif","fontSize":13,"align":"center","baseline":"middle"},"encoding":{"x":{"field":"x","type":"quantitative"},"y":{"field":"y","type":"quantitative"},"text":{"field":"label"}}},
{"data":{"values":[{}]},"mark":{"type":"rule","color":"#000","strokeWidth":1.3,"clip":false},"encoding":{"x":{"datum":19.04},"y":{"datum":0.0966},"x2":{"datum":17.84},"y2":{"datum":0.0614}}},
{"data":{"values":[{}]},"mark":{"type":"point","shape":"M-1,-0.8L0,0L-1,0.8","size":144,"filled":false,"color":"#000","strokeWidth":1.3,"opacity":1,"angle":114.7},"encoding":{"x":{"datum":17.84},"y":{"datum":0.0614}}}
]},
{"width":91,"height":79,"data":{"values":[{}]},"layer":[
{"mark":{"type":"point","shape":"M-1,-0.2L0.6,-0.2L0.6,-0.39L1,0L0.6,0.39L0.6,0.2L-1,0.2Z","size":2025,"filled":true,"opacity":1,"color":"#1c2b4f","strokeWidth":0},"encoding":{"x":{"datum":0.39,"scale":{"domain":[0,1]},"axis":null},"y":{"datum":0.481,"scale":{"domain":[0,1]},"axis":null}}},
{"mark":{"type":"text","text":"CGH","font":"Liberation Serif","fontSize":15,"align":"center","baseline":"middle"},"encoding":{"x":{"datum":0.374,"scale":{"domain":[0,1]},"axis":null},"y":{"datum":0.658,"scale":{"domain":[0,1]},"axis":null}}}
]},
{"width":120,"height":79,"data":{"values":[{"x":10,"y":0.003},{"x":11,"y":0.003},{"x":12,"y":0.003},{"x":13,"y":0.003},{"x":13.9,"y":0.004},{"x":14.24,"y":0.012},{"x":14.5,"y":0.004},{"x":15.2,"y":0.003},{"x":15.9,"y":0.005},{"x":16.4,"y":0.003},{"x":17.7,"y":0.004},{"x":18.2,"y":0.003},{"x":20,"y":0.003},{"x":22,"y":0.003},{"x":24,"y":0.003},{"x":25.6,"y":0.004},{"x":26,"y":0.003},{"x":28,"y":0.003}]},
"layer":[
{"data":{"values":[{}]},"mark":{"type":"rule","color":"#000","strokeWidth":1.8,"clip":false},"encoding":{"x":{"datum":10},"x2":{"datum":10},"y":{"datum":0},"y2":{"datum":0.16}}},
{"data":{"values":[{}]},"mark":{"type":"rule","color":"#000","strokeWidth":1.8,"clip":false},"encoding":{"x":{"datum":10},"x2":{"datum":28},"y":{"datum":0},"y2":{"datum":0}}},
{"data":{"values":[{"v":0},{"v":0.04},{"v":0.08},{"v":0.12},{"v":0.16}]},"mark":{"type":"rule","color":"#000","strokeWidth":1.5,"clip":false},"encoding":{"y":{"field":"v","type":"quantitative"},"y2":{"field":"v"},"x":{"datum":9.4},"x2":{"datum":10}}},
{"data":{"values":[{"v":10},{"v":28}]},"mark":{"type":"rule","color":"#000","strokeWidth":1.5,"clip":false},"encoding":{"x":{"field":"v","type":"quantitative"},"x2":{"field":"v"},"y":{"datum":0},"y2":{"datum":-0.0081}}},
{"mark":{"type":"line","color":"#ee8a8a","strokeWidth":2.4,"clip":false},"encoding":{"x":{"field":"x","type":"quantitative","scale":{"domain":[10,28],"nice":false,"zero":false},"axis":{"title":null,"domain":false,"ticks":false,"labelPadding":5,"labelOverlap":false,"values":[10,28],"labelFlush":true}},"y":{"field":"y","type":"quantitative","scale":{"domain":[0,0.16],"nice":false},"axis":{"title":null,"domain":false,"ticks":false,"labelPadding":5,"labelOverlap":false,"values":[0,0.04,0.08,0.12,0.16],"labelExpr":"datum.value == 0 ? '0.0' : datum.value > 0.15 ? '0.16' : ''"}}}},
{"mark":{"type":"line","color":"#c00000","strokeWidth":1.1,"clip":false},"encoding":{"x":{"field":"x","type":"quantitative"},"y":{"field":"y","type":"quantitative"}}},
{"data":{"values":[{"t":"C"}]},"mark":{"type":"text","font":"Liberation Sans","fontWeight":"bold","fontSize":14,"align":"left","baseline":"alphabetic"},"encoding":{"x":{"datum":11.0},"y":{"datum":0.134},"text":{"field":"t"}}}
]},
{"width":64,"height":139,"data":{"values":[{}]},"mark":{"type":"point","opacity":0}},
{"width":120,"height":79,"data":{"values":[{"x":14,"y":0.0006},{"x":14.6,"y":0.0009},{"x":15.2,"y":0.0006},{"x":15.8,"y":0.001},{"x":16.3,"y":0.0007},{"x":16.62,"y":0.0018},{"x":16.9,"y":0.0007},{"x":17.5,"y":0.0012},{"x":18.0,"y":0.0007},{"x":18.5,"y":0.0011},{"x":19.0,"y":0.0008},{"x":19.5,"y":0.0013},{"x":20.0,"y":0.0007},{"x":20.5,"y":0.001},{"x":21.0,"y":0.0007},{"x":21.5,"y":0.0012},{"x":22.0,"y":0.0007},{"x":22.9,"y":0.001},{"x":23.19,"y":0.0053},{"x":23.5,"y":0.001},{"x":24.0,"y":0.0006},{"x":24.5,"y":0.0007},{"x":25,"y":0.0009},{"x":25.5,"y":0.0006},{"x":26.4,"y":0.0009},{"x":26.93,"y":0.007},{"x":27.3,"y":0.0008},{"x":28,"y":0.0006},{"x":28.8,"y":0.0008},{"x":29.04,"y":0.04},{"x":29.3,"y":0.0008},{"x":30,"y":0.0006},{"x":31,"y":0.0006},{"x":32,"y":0.0007},{"x":33,"y":0.0005},{"x":34,"y":0.0005}]},
"layer":[
{"data":{"values":[{}]},"mark":{"type":"rule","color":"#000","strokeWidth":1.8,"clip":false},"encoding":{"x":{"datum":14},"x2":{"datum":14},"y":{"datum":0},"y2":{"datum":0.04}}},
{"data":{"values":[{}]},"mark":{"type":"rule","color":"#000","strokeWidth":1.8,"clip":false},"encoding":{"x":{"datum":14},"x2":{"datum":34},"y":{"datum":0},"y2":{"datum":0}}},
{"data":{"values":[{"v":0},{"v":0.01},{"v":0.02},{"v":0.03},{"v":0.04}]},"mark":{"type":"rule","color":"#000","strokeWidth":1.5,"clip":false},"encoding":{"y":{"field":"v","type":"quantitative"},"y2":{"field":"v"},"x":{"datum":13.333},"x2":{"datum":14}}},
{"data":{"values":[{"v":14},{"v":16.5},{"v":19},{"v":21.5},{"v":24},{"v":26.5},{"v":29},{"v":31.5},{"v":34}]},"mark":{"type":"rule","color":"#000","strokeWidth":1.5,"clip":false},"encoding":{"x":{"field":"v","type":"quantitative"},"x2":{"field":"v"},"y":{"datum":0},"y2":{"datum":-0.002025}}},
{"mark":{"type":"line","color":"#ee8a8a","strokeWidth":2.4,"clip":false},"encoding":{"x":{"field":"x","type":"quantitative","scale":{"domain":[14,34],"nice":false,"zero":false},"axis":{"title":null,"domain":false,"ticks":false,"labelPadding":5,"labelOverlap":false,"values":[14,16.5,19,21.5,24,26.5,29,31.5,34],"labelExpr":"datum.value % 5 == 4 ? datum.label : ''"}},"y":{"field":"y","type":"quantitative","scale":{"domain":[0,0.04],"nice":false},"axis":{"title":null,"domain":false,"ticks":false,"labelPadding":5,"labelOverlap":false,"values":[0,0.01,0.02,0.03,0.04],"labelExpr":"datum.value == 0 ? '0.0' : datum.value > 0.039 ? '0.04' : ''"}}}},
{"mark":{"type":"line","color":"#c00000","strokeWidth":1.1,"clip":false},"encoding":{"x":{"field":"x","type":"quantitative"},"y":{"field":"y","type":"quantitative"}}},
{"data":{"values":[{"t":"F"}]},"mark":{"type":"text","font":"Liberation Sans","fontWeight":"bold","fontSize":14,"align":"left","baseline":"alphabetic"},"encoding":{"x":{"datum":15.12},"y":{"datum":0.0347},"text":{"field":"t"}}}
]},
{"width":90,"height":79,"data":{"values":[{}]},"layer":[
{"mark":{"type":"point","shape":"M-1,-0.2L0.6,-0.2L0.6,-0.39L1,0L0.6,0.39L0.6,0.2L-1,0.2Z","size":2025,"filled":true,"opacity":1,"color":"#1c2b4f","strokeWidth":0},"encoding":{"x":{"datum":0.394,"scale":{"domain":[0,1]},"axis":null},"y":{"datum":0.474,"scale":{"domain":[0,1]},"axis":null}}},
{"mark":{"type":"text","text":"GUS","font":"Liberation Serif","fontSize":15,"align":"center","baseline":"middle"},"encoding":{"x":{"datum":0.383,"scale":{"domain":[0,1]},"axis":null},"y":{"datum":0.654,"scale":{"domain":[0,1]},"axis":null}}}
]},
{"width":120,"height":79,"data":{"values":[{"x":14,"y":0.0004},{"x":14.8,"y":0.0006},{"x":15.6,"y":0.0008},{"x":16.2,"y":0.0013},{"x":16.5,"y":0.0007},{"x":17.0,"y":0.0015},{"x":17.3,"y":0.0006},{"x":18,"y":0.0005},{"x":18.6,"y":0.0008},{"x":19.2,"y":0.0005},{"x":20,"y":0.0009},{"x":20.5,"y":0.0005},{"x":21,"y":0.0006},{"x":22,"y":0.0004},{"x":23.0,"y":0.0008},{"x":23.28,"y":0.0039},{"x":23.6,"y":0.0007},{"x":24.3,"y":0.0005},{"x":25,"y":0.0007},{"x":26,"y":0.0005},{"x":26.6,"y":0.0008},{"x":26.92,"y":0.0035},{"x":27.2,"y":0.0007},{"x":28,"y":0.0005},{"x":28.9,"y":0.0007},{"x":29.14,"y":0.04},{"x":29.4,"y":0.0006},{"x":30.5,"y":0.0005},{"x":31.5,"y":0.0004},{"x":32.5,"y":0.0005},{"x":33.5,"y":0.0004},{"x":34,"y":0.0004}]},
"layer":[
{"data":{"values":[{}]},"mark":{"type":"rule","color":"#000","strokeWidth":1.8,"clip":false},"encoding":{"x":{"datum":14},"x2":{"datum":14},"y":{"datum":0},"y2":{"datum":0.04}}},
{"data":{"values":[{}]},"mark":{"type":"rule","color":"#000","strokeWidth":1.8,"clip":false},"encoding":{"x":{"datum":14},"x2":{"datum":34},"y":{"datum":0},"y2":{"datum":0}}},
{"data":{"values":[{"v":0},{"v":0.01},{"v":0.02},{"v":0.03},{"v":0.04}]},"mark":{"type":"rule","color":"#000","strokeWidth":1.5,"clip":false},"encoding":{"y":{"field":"v","type":"quantitative"},"y2":{"field":"v"},"x":{"datum":13.333},"x2":{"datum":14}}},
{"data":{"values":[{"v":14},{"v":16.5},{"v":19},{"v":21.5},{"v":24},{"v":26.5},{"v":29},{"v":31.5},{"v":34}]},"mark":{"type":"rule","color":"#000","strokeWidth":1.5,"clip":false},"encoding":{"x":{"field":"v","type":"quantitative"},"x2":{"field":"v"},"y":{"datum":0},"y2":{"datum":-0.002025}}},
{"mark":{"type":"line","color":"#ee8a8a","strokeWidth":2.4,"clip":false},"encoding":{"x":{"field":"x","type":"quantitative","scale":{"domain":[14,34],"nice":false,"zero":false},"axis":{"title":null,"domain":false,"ticks":false,"labelPadding":5,"labelOverlap":false,"values":[14,16.5,19,21.5,24,26.5,29,31.5,34],"labelExpr":"datum.value % 5 == 4 ? datum.label : ''"}},"y":{"field":"y","type":"quantitative","scale":{"domain":[0,0.04],"nice":false},"axis":{"title":null,"domain":false,"ticks":false,"labelPadding":5,"labelOverlap":false,"values":[0,0.01,0.02,0.03,0.04],"labelExpr":"datum.value == 0 ? '0.0' : datum.value > 0.039 ? '0.04' : ''"}}}},
{"mark":{"type":"line","color":"#c00000","strokeWidth":1.1,"clip":false},"encoding":{"x":{"field":"x","type":"quantitative"},"y":{"field":"y","type":"quantitative"}}},
{"data":{"values":[{"t":"F"}]},"mark":{"type":"text","font":"Liberation Sans","fontWeight":"bold","fontSize":14,"align":"left","baseline":"alphabetic"},"encoding":{"x":{"datum":15.12},"y":{"datum":0.0347},"text":{"field":"t"}}}
]},

{"width":120,"height":76,"data":{"values":[{"s":"r","x":0,"y":0.0003},{"s":"r","x":1,"y":0.0003},{"s":"r","x":2,"y":0.0003},{"s":"r","x":2.55,"y":0.0005},{"s":"r","x":2.65,"y":0.004},{"s":"r","x":2.79,"y":0.03},{"s":"r","x":2.92,"y":0.004},{"s":"r","x":3.0,"y":0.003},{"s":"r","x":3.12,"y":0.0091},{"s":"r","x":3.22,"y":0.003},{"s":"r","x":3.33,"y":0.002},{"s":"r","x":3.55,"y":0.0012},{"s":"r","x":3.78,"y":0.0008},{"s":"r","x":4.2,"y":0.0004},{"s":"r","x":5,"y":0.0003},{"s":"r","x":6,"y":0.0003},{"s":"r","x":7,"y":0.0003},{"s":"r","x":8,"y":0.0003},
{"s":"b","x":0,"y":0.0052},{"s":"b","x":1,"y":0.0052},{"s":"b","x":2,"y":0.0052},{"s":"b","x":2.45,"y":0.0054},{"s":"b","x":2.57,"y":0.0085},{"s":"b","x":2.7,"y":0.012},{"s":"b","x":2.83,"y":0.0235},{"s":"b","x":2.95,"y":0.007},{"s":"b","x":3.06,"y":0.0055},{"s":"b","x":3.14,"y":0.0075},{"s":"b","x":3.25,"y":0.0058},{"s":"b","x":3.4,"y":0.0058},{"s":"b","x":3.6,"y":0.0056},{"s":"b","x":4,"y":0.0053},{"s":"b","x":5,"y":0.0052},{"s":"b","x":6,"y":0.0052},{"s":"b","x":8,"y":0.0052},
{"s":"g","x":0,"y":0.0029},{"s":"g","x":2,"y":0.0029},{"s":"g","x":2.6,"y":0.003},{"s":"g","x":2.72,"y":0.005},{"s":"g","x":2.88,"y":0.0163},{"s":"g","x":3.0,"y":0.005},{"s":"g","x":3.12,"y":0.0045},{"s":"g","x":3.3,"y":0.0033},{"s":"g","x":3.6,"y":0.003},{"s":"g","x":5,"y":0.0029},{"s":"g","x":8,"y":0.0029}]},
"layer":[
{"data":{"values":[{}]},"mark":{"type":"rule","color":"#000","strokeWidth":1.8,"clip":false},"encoding":{"x":{"datum":0},"x2":{"datum":0},"y":{"datum":0},"y2":{"datum":0.03}}},
{"data":{"values":[{}]},"mark":{"type":"rule","color":"#000","strokeWidth":1.8,"clip":false},"encoding":{"x":{"datum":0},"x2":{"datum":8},"y":{"datum":0},"y2":{"datum":0}}},
{"data":{"values":[{"v":0},{"v":0.0075},{"v":0.015},{"v":0.0225},{"v":0.03}]},"mark":{"type":"rule","color":"#000","strokeWidth":1.5,"clip":false},"encoding":{"y":{"field":"v","type":"quantitative"},"y2":{"field":"v"},"x":{"datum":-0.267},"x2":{"datum":0}}},
{"data":{"values":[{"v":0},{"v":1},{"v":2},{"v":3},{"v":4},{"v":5},{"v":6},{"v":7},{"v":8}]},"mark":{"type":"rule","color":"#000","strokeWidth":1.5,"clip":false},"encoding":{"x":{"field":"v","type":"quantitative"},"x2":{"field":"v"},"y":{"datum":0},"y2":{"datum":-0.00158}}},
{"transform":[{"filter":"datum.s == 'b'"}],"mark":{"type":"line","color":"#1f1fd0","strokeWidth":1.2,"clip":false},"encoding":{"x":{"field":"x","type":"quantitative","scale":{"domain":[0,8],"nice":false,"zero":false},"axis":{"title":null,"domain":false,"ticks":false,"labelPadding":5,"labelOverlap":false,"values":[0,1,2,3,4,5,6,7,8],"labels":false}},"y":{"field":"y","type":"quantitative","scale":{"domain":[0,0.03],"nice":false},"axis":{"title":null,"domain":false,"ticks":false,"labelPadding":5,"labelOverlap":false,"values":[0,0.0075,0.015,0.0225,0.03],"labelExpr":"datum.value == 0 ? '0.0' : datum.value > 0.029 ? '0.03' : ''"}}}},
{"transform":[{"filter":"datum.s == 'g'"}],"mark":{"type":"line","color":"#2e8b2e","strokeWidth":1.1,"clip":false},"encoding":{"x":{"field":"x","type":"quantitative"},"y":{"field":"y","type":"quantitative"}}},
{"transform":[{"filter":"datum.s == 'r'"}],"mark":{"type":"line","color":"#ee8a8a","strokeWidth":2.4,"clip":false},"encoding":{"x":{"field":"x","type":"quantitative"},"y":{"field":"y","type":"quantitative"}}},
{"transform":[{"filter":"datum.s == 'r'"}],"mark":{"type":"line","color":"#c00000","strokeWidth":1.1,"clip":false},"encoding":{"x":{"field":"x","type":"quantitative"},"y":{"field":"y","type":"quantitative"}}},
{"data":{"values":[{"t":"G"}]},"mark":{"type":"text","font":"Liberation Sans","fontWeight":"bold","fontSize":14,"align":"left","baseline":"alphabetic"},"encoding":{"x":{"datum":0.53},"y":{"datum":0.025},"text":{"field":"t"}}},
{"data":{"values":[{"x":2.79,"y":0.0319,"label":"20"}]},"mark":{"type":"text","font":"Liberation Serif","fontSize":13,"align":"center","baseline":"middle"},"encoding":{"x":{"field":"x","type":"quantitative"},"y":{"field":"y","type":"quantitative"},"text":{"field":"label"}}}
]},
{"width":91,"height":76,"data":{"values":[{}]},"layer":[
{"mark":{"type":"point","shape":"M-1,-0.2L0.6,-0.2L0.6,-0.39L1,0L0.6,0.39L0.6,0.2L-1,0.2Z","size":2025,"filled":true,"opacity":1,"color":"#1c2b4f","strokeWidth":0},"encoding":{"x":{"datum":0.39,"scale":{"domain":[0,1]},"axis":null},"y":{"datum":0.487,"scale":{"domain":[0,1]},"axis":null}}},
{"mark":{"type":"text","text":"GUS","font":"Liberation Serif","fontSize":15,"align":"center","baseline":"middle"},"encoding":{"x":{"datum":0.374,"scale":{"domain":[0,1]},"axis":null},"y":{"datum":0.658,"scale":{"domain":[0,1]},"axis":null}}},
{"mark":{"type":"point","shape":"M-1,-0.2L0.6,-0.2L0.6,-0.39L1,0L0.6,0.39L0.6,0.2L-1,0.2Z","size":2770,"angle":38.8,"filled":true,"opacity":1,"color":"#1c2b4f","strokeWidth":0},"encoding":{"x":{"datum":0.379,"scale":{"domain":[0,1]},"axis":null},"y":{"datum":-0.178,"scale":{"domain":[0,1]},"axis":null}}},
{"mark":{"type":"text","text":"GUS","angle":38.8,"font":"Liberation Serif","fontSize":15,"align":"center","baseline":"middle"},"encoding":{"x":{"datum":0.423,"scale":{"domain":[0,1]},"axis":null},"y":{"datum":-0.026,"scale":{"domain":[0,1]},"axis":null}}}
]},
{"width":120,"height":76,"data":{"values":[{"x":0,"y":0.0009},{"x":1,"y":0.0009},{"x":2,"y":0.0009},{"x":2.7,"y":0.0011},{"x":2.85,"y":0.005},{"x":2.97,"y":0.0074},{"x":3.1,"y":0.004},{"x":3.25,"y":0.0015},{"x":3.6,"y":0.0011},{"x":4.2,"y":0.001},{"x":5,"y":0.0009},{"x":6,"y":0.0009},{"x":7,"y":0.0009},{"x":8,"y":0.0009}]},
"layer":[
{"data":{"values":[{}]},"mark":{"type":"rule","color":"#000","strokeWidth":1.8,"clip":false},"encoding":{"x":{"datum":0},"x2":{"datum":0},"y":{"datum":0},"y2":{"datum":0.03}}},
{"data":{"values":[{}]},"mark":{"type":"rule","color":"#000","strokeWidth":1.8,"clip":false},"encoding":{"x":{"datum":0},"x2":{"datum":8},"y":{"datum":0},"y2":{"datum":0}}},
{"data":{"values":[{"v":0},{"v":0.0075},{"v":0.015},{"v":0.0225},{"v":0.03}]},"mark":{"type":"rule","color":"#000","strokeWidth":1.5,"clip":false},"encoding":{"y":{"field":"v","type":"quantitative"},"y2":{"field":"v"},"x":{"datum":-0.267},"x2":{"datum":0}}},
{"data":{"values":[{"v":0},{"v":1},{"v":2},{"v":3},{"v":4},{"v":5},{"v":6},{"v":7},{"v":8}]},"mark":{"type":"rule","color":"#000","strokeWidth":1.5,"clip":false},"encoding":{"x":{"field":"v","type":"quantitative"},"x2":{"field":"v"},"y":{"datum":0},"y2":{"datum":-0.00158}}},
{"mark":{"type":"line","color":"#ee8a8a","strokeWidth":2.4,"clip":false},"encoding":{"x":{"field":"x","type":"quantitative","scale":{"domain":[0,8],"nice":false,"zero":false},"axis":{"title":null,"domain":false,"ticks":false,"labelPadding":5,"labelOverlap":false,"values":[0,1,2,3,4,5,6,7,8],"labels":false}},"y":{"field":"y","type":"quantitative","scale":{"domain":[0,0.03],"nice":false},"axis":{"title":null,"domain":false,"ticks":false,"labelPadding":5,"labelOverlap":false,"values":[0,0.0075,0.015,0.0225,0.03],"labelExpr":"datum.value == 0 ? '0.0' : datum.value > 0.029 ? '0.03' : ''"}}}},
{"mark":{"type":"line","color":"#c00000","strokeWidth":1.1,"clip":false},"encoding":{"x":{"field":"x","type":"quantitative"},"y":{"field":"y","type":"quantitative"}}},
{"data":{"values":[{"t":"G"}]},"mark":{"type":"text","font":"Liberation Sans","fontWeight":"bold","fontSize":14,"align":"left","baseline":"alphabetic"},"encoding":{"x":{"datum":0.5},"y":{"datum":0.025},"text":{"field":"t"}}},
{"data":{"values":[{"x":1.65,"y":0.012,"label":"20"}]},"mark":{"type":"text","font":"Liberation Serif","fontSize":13,"align":"center","baseline":"middle"},"encoding":{"x":{"field":"x","type":"quantitative"},"y":{"field":"y","type":"quantitative"},"text":{"field":"label"}}},
{"data":{"values":[{}]},"mark":{"type":"rule","color":"#000","strokeWidth":1.3,"clip":false},"encoding":{"x":{"datum":1.95},"y":{"datum":0.0094},"x2":{"datum":2.6},"y2":{"datum":0.0016}}},
{"data":{"values":[{}]},"mark":{"type":"point","shape":"M-1,-0.8L0,0L-1,0.8","size":144,"filled":false,"color":"#000","strokeWidth":1.3,"opacity":1,"angle":63.4},"encoding":{"x":{"datum":2.6},"y":{"datum":0.0016}}}
]},
{"width":64,"height":100,"data":{"values":[{}]},"mark":{"type":"point","opacity":0}},
{"width":120,"height":76,"data":{"values":[{"s":"r","x":0,"y":0.005},{"s":"r","x":2,"y":0.005},{"s":"r","x":2.45,"y":0.006},{"s":"r","x":2.55,"y":0.05},{"s":"r","x":2.64,"y":0.55},{"s":"r","x":2.73,"y":0.12},{"s":"r","x":2.83,"y":0.06},{"s":"r","x":3.1,"y":0.024},{"s":"r","x":3.6,"y":0.008},{"s":"r","x":4.5,"y":0.005},{"s":"r","x":8,"y":0.005},
{"s":"g","x":0,"y":0.0526},{"s":"g","x":2,"y":0.0526},{"s":"g","x":2.4,"y":0.055},{"s":"g","x":2.5,"y":0.084},{"s":"g","x":2.64,"y":0.418},{"s":"g","x":2.75,"y":0.15},{"s":"g","x":2.83,"y":0.1076},{"s":"g","x":3.05,"y":0.0765},{"s":"g","x":3.3,"y":0.058},{"s":"g","x":4,"y":0.0526},{"s":"g","x":8,"y":0.0526},
{"s":"b","x":0,"y":0.0957},{"s":"b","x":2,"y":0.0957},{"s":"b","x":2.29,"y":0.0957},{"s":"b","x":2.42,"y":0.155},{"s":"b","x":2.55,"y":0.12},{"s":"b","x":2.7,"y":0.196},{"s":"b","x":2.83,"y":0.15},{"s":"b","x":2.93,"y":0.33},{"s":"b","x":3.03,"y":0.2},{"s":"b","x":3.13,"y":0.12},{"s":"b","x":3.33,"y":0.0957},{"s":"b","x":3.48,"y":0.108},{"s":"b","x":3.7,"y":0.1},{"s":"b","x":5,"y":0.098},{"s":"b","x":8,"y":0.0957}]},
"layer":[
{"data":{"values":[{}]},"mark":{"type":"rule","color":"#000","strokeWidth":1.8,"clip":false},"encoding":{"x":{"datum":0},"x2":{"datum":0},"y":{"datum":0},"y2":{"datum":0.55}}},
{"data":{"values":[{}]},"mark":{"type":"rule","color":"#000","strokeWidth":1.8,"clip":false},"encoding":{"x":{"datum":0},"x2":{"datum":8},"y":{"datum":0},"y2":{"datum":0}}},
{"data":{"values":[{"v":0},{"v":0.1375},{"v":0.275},{"v":0.4125},{"v":0.55}]},"mark":{"type":"rule","color":"#000","strokeWidth":1.5,"clip":false},"encoding":{"y":{"field":"v","type":"quantitative"},"y2":{"field":"v"},"x":{"datum":-0.267},"x2":{"datum":0}}},
{"data":{"values":[{"v":0},{"v":1},{"v":2},{"v":3},{"v":4},{"v":5},{"v":6},{"v":7},{"v":8}]},"mark":{"type":"rule","color":"#000","strokeWidth":1.5,"clip":false},"encoding":{"x":{"field":"v","type":"quantitative"},"x2":{"field":"v"},"y":{"datum":0},"y2":{"datum":-0.02895}}},
{"transform":[{"filter":"datum.s == 'b'"}],"mark":{"type":"line","color":"#1f1fd0","strokeWidth":1.2,"clip":false},"encoding":{"x":{"field":"x","type":"quantitative","scale":{"domain":[0,8],"nice":false,"zero":false},"axis":{"title":null,"domain":false,"ticks":false,"labelPadding":5,"labelOverlap":false,"values":[0,1,2,3,4,5,6,7,8],"labels":false}},"y":{"field":"y","type":"quantitative","scale":{"domain":[0,0.55],"nice":false},"axis":{"title":null,"domain":false,"ticks":false,"labelPadding":5,"labelOverlap":false,"values":[0,0.1375,0.275,0.4125,0.55],"labelExpr":"datum.value == 0 ? '0.0' : datum.value > 0.54 ? '0.55' : ''"}}}},
{"transform":[{"filter":"datum.s == 'g'"}],"mark":{"type":"line","color":"#2e8b2e","strokeWidth":1.1,"clip":false},"encoding":{"x":{"field":"x","type":"quantitative"},"y":{"field":"y","type":"quantitative"}}},
{"transform":[{"filter":"datum.s == 'r'"}],"mark":{"type":"line","color":"#ee8a8a","strokeWidth":2.4,"clip":false},"encoding":{"x":{"field":"x","type":"quantitative"},"y":{"field":"y","type":"quantitative"}}},
{"transform":[{"filter":"datum.s == 'r'"}],"mark":{"type":"line","color":"#c00000","strokeWidth":1.1,"clip":false},"encoding":{"x":{"field":"x","type":"quantitative"},"y":{"field":"y","type":"quantitative"}}},
{"data":{"values":[{"t":"I"}]},"mark":{"type":"text","font":"Liberation Sans","fontWeight":"bold","fontSize":14,"align":"left","baseline":"alphabetic"},"encoding":{"x":{"datum":0.44},"y":{"datum":0.4826},"text":{"field":"t"}}},
{"data":{"values":[{"x":2.68,"y":0.59,"label":"21"}]},"mark":{"type":"text","font":"Liberation Serif","fontSize":13,"align":"center","baseline":"middle"},"encoding":{"x":{"field":"x","type":"quantitative"},"y":{"field":"y","type":"quantitative"},"text":{"field":"label"}}}
]},
{"width":90,"height":76,"data":{"values":[{}]},"layer":[
{"mark":{"type":"point","shape":"M-1,-0.2L0.6,-0.2L0.6,-0.39L1,0L0.6,0.39L0.6,0.2L-1,0.2Z","size":2025,"filled":true,"opacity":1,"color":"#1c2b4f","strokeWidth":0},"encoding":{"x":{"datum":0.394,"scale":{"domain":[0,1]},"axis":null},"y":{"datum":0.474,"scale":{"domain":[0,1]},"axis":null}}},
{"mark":{"type":"text","text":"S&GI","font":"Liberation Serif","fontSize":15,"align":"center","baseline":"middle"},"encoding":{"x":{"datum":0.383,"scale":{"domain":[0,1]},"axis":null},"y":{"datum":0.658,"scale":{"domain":[0,1]},"axis":null}}}
]},
{"width":120,"height":76,"data":{"values":[{"x":0,"y":0.007},{"x":0.5,"y":0.009},{"x":1,"y":0.008},{"x":1.5,"y":0.007},{"x":2,"y":0.008},{"x":2.5,"y":0.011},{"x":3,"y":0.013},{"x":3.5,"y":0.01},{"x":4,"y":0.008},{"x":4.5,"y":0.007},{"x":5,"y":0.008},{"x":5.5,"y":0.007},{"x":6,"y":0.007},{"x":6.5,"y":0.008},{"x":7,"y":0.007},{"x":7.5,"y":0.007},{"x":8,"y":0.007}]},
"layer":[
{"data":{"values":[{}]},"mark":{"type":"rule","color":"#000","strokeWidth":1.8,"clip":false},"encoding":{"x":{"datum":0},"x2":{"datum":0},"y":{"datum":0},"y2":{"datum":0.55}}},
{"data":{"values":[{}]},"mark":{"type":"rule","color":"#000","strokeWidth":1.8,"clip":false},"encoding":{"x":{"datum":0},"x2":{"datum":8},"y":{"datum":0},"y2":{"datum":0}}},
{"data":{"values":[{"v":0},{"v":0.1375},{"v":0.275},{"v":0.4125},{"v":0.55}]},"mark":{"type":"rule","color":"#000","strokeWidth":1.5,"clip":false},"encoding":{"y":{"field":"v","type":"quantitative"},"y2":{"field":"v"},"x":{"datum":-0.267},"x2":{"datum":0}}},
{"data":{"values":[{"v":0},{"v":1},{"v":2},{"v":3},{"v":4},{"v":5},{"v":6},{"v":7},{"v":8}]},"mark":{"type":"rule","color":"#000","strokeWidth":1.5,"clip":false},"encoding":{"x":{"field":"v","type":"quantitative"},"x2":{"field":"v"},"y":{"datum":0},"y2":{"datum":-0.02895}}},
{"mark":{"type":"line","color":"#ee8a8a","strokeWidth":2.4,"clip":false},"encoding":{"x":{"field":"x","type":"quantitative","scale":{"domain":[0,8],"nice":false,"zero":false},"axis":{"title":null,"domain":false,"ticks":false,"labelPadding":5,"labelOverlap":false,"values":[0,1,2,3,4,5,6,7,8],"labels":false}},"y":{"field":"y","type":"quantitative","scale":{"domain":[0,0.55],"nice":false},"axis":{"title":null,"domain":false,"ticks":false,"labelPadding":5,"labelOverlap":false,"values":[0,0.1375,0.275,0.4125,0.55],"labelExpr":"datum.value == 0 ? '0.0' : datum.value > 0.54 ? '0.55' : ''"}}}},
{"mark":{"type":"line","color":"#c00000","strokeWidth":1.1,"clip":false},"encoding":{"x":{"field":"x","type":"quantitative"},"y":{"field":"y","type":"quantitative"}}},
{"data":{"values":[{"t":"I"}]},"mark":{"type":"text","font":"Liberation Sans","fontWeight":"bold","fontSize":14,"align":"left","baseline":"alphabetic"},"encoding":{"x":{"datum":0.44},"y":{"datum":0.4826},"text":{"field":"t"}}}
]},

{"width":120,"height":77,"data":{"values":[{"x":0,"y":0.0009},{"x":1,"y":0.0009},{"x":2,"y":0.0009},{"x":2.6,"y":0.001},{"x":2.9,"y":0.0026},{"x":3.2,"y":0.0015},{"x":3.5,"y":0.0011},{"x":4.0,"y":0.001},{"x":4.2,"y":0.0017},{"x":4.4,"y":0.001},{"x":5,"y":0.0009},{"x":6,"y":0.0009},{"x":7,"y":0.0009},{"x":8,"y":0.0009}]},
"layer":[
{"data":{"values":[{}]},"mark":{"type":"rule","color":"#000","strokeWidth":1.8,"clip":false},"encoding":{"x":{"datum":0},"x2":{"datum":0},"y":{"datum":0},"y2":{"datum":0.04}}},
{"data":{"values":[{}]},"mark":{"type":"rule","color":"#000","strokeWidth":1.8,"clip":false},"encoding":{"x":{"datum":0},"x2":{"datum":8},"y":{"datum":0},"y2":{"datum":0}}},
{"data":{"values":[{"v":0},{"v":0.01},{"v":0.02},{"v":0.03},{"v":0.04}]},"mark":{"type":"rule","color":"#000","strokeWidth":1.5,"clip":false},"encoding":{"y":{"field":"v","type":"quantitative"},"y2":{"field":"v"},"x":{"datum":-0.267},"x2":{"datum":0}}},
{"data":{"values":[{"v":0},{"v":1},{"v":2},{"v":3},{"v":4},{"v":5},{"v":6},{"v":7},{"v":8}]},"mark":{"type":"rule","color":"#000","strokeWidth":1.5,"clip":false},"encoding":{"x":{"field":"v","type":"quantitative"},"x2":{"field":"v"},"y":{"datum":0},"y2":{"datum":-0.00208}}},
{"mark":{"type":"line","color":"#ee8a8a","strokeWidth":2.4,"clip":false},"encoding":{"x":{"field":"x","type":"quantitative","scale":{"domain":[0,8],"nice":false,"zero":false},"axis":{"title":null,"domain":false,"ticks":false,"labelPadding":5,"labelOverlap":false,"values":[0,1,2,3,4,5,6,7,8],"labelExpr":"datum.value % 2 == 0 ? datum.label : ''"}},"y":{"field":"y","type":"quantitative","scale":{"domain":[0,0.04],"nice":false},"axis":{"title":null,"domain":false,"ticks":false,"labelPadding":5,"labelOverlap":false,"values":[0,0.01,0.02,0.03,0.04],"labelExpr":"datum.value == 0 ? '0.0' : datum.value > 0.039 ? '0.04' : ''"}}}},
{"mark":{"type":"line","color":"#c00000","strokeWidth":1.1,"clip":false},"encoding":{"x":{"field":"x","type":"quantitative"},"y":{"field":"y","type":"quantitative"}}},
{"data":{"values":[{"t":"H"}]},"mark":{"type":"text","font":"Liberation Sans","fontWeight":"bold","fontSize":14,"align":"left","baseline":"alphabetic"},"encoding":{"x":{"datum":0.53},"y":{"datum":0.0334},"text":{"field":"t"}}}
]},
{"width":91,"height":77,"data":{"values":[{}]},"layer":[
{"mark":{"type":"point","shape":"M-1,-0.2L0.6,-0.2L0.6,-0.39L1,0L0.6,0.39L0.6,0.2L-1,0.2Z","size":2025,"filled":true,"opacity":1,"color":"#1c2b4f","strokeWidth":0},"encoding":{"x":{"datum":0.39,"scale":{"domain":[0,1]},"axis":null},"y":{"datum":0.494,"scale":{"domain":[0,1]},"axis":null}}},
{"mark":{"type":"text","text":"GUS","font":"Liberation Serif","fontSize":15,"align":"center","baseline":"middle"},"encoding":{"x":{"datum":0.374,"scale":{"domain":[0,1]},"axis":null},"y":{"datum":0.662,"scale":{"domain":[0,1]},"axis":null}}}
]},
{"width":120,"height":77,"data":{"values":[{"x":0,"y":0.0008},{"x":1,"y":0.0008},{"x":2,"y":0.0008},{"x":2.6,"y":0.0008},{"x":2.68,"y":0.005},{"x":2.75,"y":0.04},{"x":2.82,"y":0.005},{"x":2.9,"y":0.0012},{"x":3.0,"y":0.0017},{"x":3.15,"y":0.001},{"x":3.3,"y":0.0014},{"x":3.6,"y":0.001},{"x":4.5,"y":0.0009},{"x":5.5,"y":0.0008},{"x":8,"y":0.0008}]},
"layer":[
{"data":{"values":[{}]},"mark":{"type":"rule","color":"#000","strokeWidth":1.8,"clip":false},"encoding":{"x":{"datum":0},"x2":{"datum":0},"y":{"datum":0},"y2":{"datum":0.04}}},
{"data":{"values":[{}]},"mark":{"type":"rule","color":"#000","strokeWidth":1.8,"clip":false},"encoding":{"x":{"datum":0},"x2":{"datum":8},"y":{"datum":0},"y2":{"datum":0}}},
{"data":{"values":[{"v":0},{"v":0.01},{"v":0.02},{"v":0.03},{"v":0.04}]},"mark":{"type":"rule","color":"#000","strokeWidth":1.5,"clip":false},"encoding":{"y":{"field":"v","type":"quantitative"},"y2":{"field":"v"},"x":{"datum":-0.267},"x2":{"datum":0}}},
{"data":{"values":[{"v":0},{"v":1},{"v":2},{"v":3},{"v":4},{"v":5},{"v":6},{"v":7},{"v":8}]},"mark":{"type":"rule","color":"#000","strokeWidth":1.5,"clip":false},"encoding":{"x":{"field":"v","type":"quantitative"},"x2":{"field":"v"},"y":{"datum":0},"y2":{"datum":-0.00208}}},
{"mark":{"type":"line","color":"#ee8a8a","strokeWidth":2.4,"clip":false},"encoding":{"x":{"field":"x","type":"quantitative","scale":{"domain":[0,8],"nice":false,"zero":false},"axis":{"title":null,"domain":false,"ticks":false,"labelPadding":5,"labelOverlap":false,"values":[0,1,2,3,4,5,6,7,8],"labelExpr":"datum.value % 2 == 0 ? datum.label : ''"}},"y":{"field":"y","type":"quantitative","scale":{"domain":[0,0.04],"nice":false},"axis":{"title":null,"domain":false,"ticks":false,"labelPadding":5,"labelOverlap":false,"values":[0,0.01,0.02,0.03,0.04],"labelExpr":"datum.value == 0 ? '0.0' : datum.value > 0.039 ? '0.04' : ''"}}}},
{"mark":{"type":"line","color":"#c00000","strokeWidth":1.1,"clip":false},"encoding":{"x":{"field":"x","type":"quantitative"},"y":{"field":"y","type":"quantitative"}}},
{"data":{"values":[{"t":"H"}]},"mark":{"type":"text","font":"Liberation Sans","fontWeight":"bold","fontSize":14,"align":"left","baseline":"alphabetic"},"encoding":{"x":{"datum":0.5},"y":{"datum":0.0334},"text":{"field":"t"}}},
{"data":{"values":[{"x":2.8,"y":0.0443,"label":"20a"}]},"mark":{"type":"text","font":"Liberation Serif","fontSize":13,"align":"center","baseline":"middle"},"encoding":{"x":{"field":"x","type":"quantitative"},"y":{"field":"y","type":"quantitative"},"text":{"field":"label"}}}
]},
{"width":64,"height":137,"data":{"values":[{}]},"mark":{"type":"point","opacity":0}},
{"width":120,"height":77,"data":{"values":[{"s":"r","x":0,"y":0.0044},{"s":"r","x":2,"y":0.0044},{"s":"r","x":2.4,"y":0.005},{"s":"r","x":2.46,"y":0.05},{"s":"r","x":2.51,"y":0.34},{"s":"r","x":2.6,"y":0.09},{"s":"r","x":2.75,"y":0.063},{"s":"r","x":2.89,"y":0.034},{"s":"r","x":3.1,"y":0.012},{"s":"r","x":3.5,"y":0.006},{"s":"r","x":4.5,"y":0.0044},{"s":"r","x":8,"y":0.0044},
{"s":"g","x":0,"y":0.0294},{"s":"g","x":2.3,"y":0.0294},{"s":"g","x":2.43,"y":0.04},{"s":"g","x":2.51,"y":0.166},{"s":"g","x":2.6,"y":0.08},{"s":"g","x":2.7,"y":0.063},{"s":"g","x":2.86,"y":0.035},{"s":"g","x":3.1,"y":0.0294},{"s":"g","x":8,"y":0.0294},
{"s":"b","x":0,"y":0.056},{"s":"b","x":2.2,"y":0.056},{"s":"b","x":2.29,"y":0.0957},{"s":"b","x":2.4,"y":0.078},{"s":"b","x":2.51,"y":0.2075},{"s":"b","x":2.64,"y":0.078},{"s":"b","x":2.75,"y":0.097},{"s":"b","x":2.9,"y":0.063},{"s":"b","x":3.1,"y":0.057},{"s":"b","x":8,"y":0.056}]},
"layer":[
{"data":{"values":[{}]},"mark":{"type":"rule","color":"#000","strokeWidth":1.8,"clip":false},"encoding":{"x":{"datum":0},"x2":{"datum":0},"y":{"datum":0},"y2":{"datum":0.34}}},
{"data":{"values":[{}]},"mark":{"type":"rule","color":"#000","strokeWidth":1.8,"clip":false},"encoding":{"x":{"datum":0},"x2":{"datum":8},"y":{"datum":0},"y2":{"datum":0}}},
{"data":{"values":[{"v":0},{"v":0.085},{"v":0.17},{"v":0.255},{"v":0.34}]},"mark":{"type":"rule","color":"#000","strokeWidth":1.5,"clip":false},"encoding":{"y":{"field":"v","type":"quantitative"},"y2":{"field":"v"},"x":{"datum":-0.267},"x2":{"datum":0}}},
{"data":{"values":[{"v":0},{"v":1},{"v":2},{"v":3},{"v":4},{"v":5},{"v":6},{"v":7},{"v":8}]},"mark":{"type":"rule","color":"#000","strokeWidth":1.5,"clip":false},"encoding":{"x":{"field":"v","type":"quantitative"},"x2":{"field":"v"},"y":{"datum":0},"y2":{"datum":-0.01766}}},
{"transform":[{"filter":"datum.s == 'b'"}],"mark":{"type":"line","color":"#1f1fd0","strokeWidth":1.2,"clip":false},"encoding":{"x":{"field":"x","type":"quantitative","scale":{"domain":[0,8],"nice":false,"zero":false},"axis":{"title":null,"domain":false,"ticks":false,"labelPadding":5,"labelOverlap":false,"values":[0,1,2,3,4,5,6,7,8],"labelExpr":"datum.value % 2 == 0 ? datum.label : ''"}},"y":{"field":"y","type":"quantitative","scale":{"domain":[0,0.34],"nice":false},"axis":{"title":null,"domain":false,"ticks":false,"labelPadding":5,"labelOverlap":false,"values":[0,0.085,0.17,0.255,0.34],"labelExpr":"datum.value == 0 ? '0.0' : datum.value > 0.33 ? '0.34' : ''"}}}},
{"transform":[{"filter":"datum.s == 'g'"}],"mark":{"type":"line","color":"#2e8b2e","strokeWidth":1.1,"clip":false},"encoding":{"x":{"field":"x","type":"quantitative"},"y":{"field":"y","type":"quantitative"}}},
{"transform":[{"filter":"datum.s == 'r'"}],"mark":{"type":"line","color":"#ee8a8a","strokeWidth":2.4,"clip":false},"encoding":{"x":{"field":"x","type":"quantitative"},"y":{"field":"y","type":"quantitative"}}},
{"transform":[{"filter":"datum.s == 'r'"}],"mark":{"type":"line","color":"#c00000","strokeWidth":1.1,"clip":false},"encoding":{"x":{"field":"x","type":"quantitative"},"y":{"field":"y","type":"quantitative"}}},
{"data":{"values":[{"t":"J"}]},"mark":{"type":"text","font":"Liberation Sans","fontWeight":"bold","fontSize":14,"align":"left","baseline":"alphabetic"},"encoding":{"x":{"datum":0.44},"y":{"datum":0.2985},"text":{"field":"t"}}},
{"data":{"values":[{"x":2.53,"y":0.365,"label":"22"}]},"mark":{"type":"text","font":"Liberation Serif","fontSize":13,"align":"center","baseline":"middle"},"encoding":{"x":{"field":"x","type":"quantitative"},"y":{"field":"y","type":"quantitative"},"text":{"field":"label"}}}
]},
{"width":90,"height":77,"data":{"values":[{}]},"layer":[
{"mark":{"type":"point","shape":"M-1,-0.2L0.6,-0.2L0.6,-0.39L1,0L0.6,0.39L0.6,0.2L-1,0.2Z","size":2025,"filled":true,"opacity":1,"color":"#1c2b4f","strokeWidth":0},"encoding":{"x":{"datum":0.394,"scale":{"domain":[0,1]},"axis":null},"y":{"datum":0.481,"scale":{"domain":[0,1]},"axis":null}}},
{"mark":{"type":"text","text":"S&GI","font":"Liberation Serif","fontSize":15,"align":"center","baseline":"middle"},"encoding":{"x":{"datum":0.383,"scale":{"domain":[0,1]},"axis":null},"y":{"datum":0.662,"scale":{"domain":[0,1]},"axis":null}}}
]},
{"width":120,"height":77,"data":{"values":[{"x":0,"y":0.006},{"x":0.5,"y":0.006},{"x":1,"y":0.006},{"x":1.2,"y":0.01},{"x":1.32,"y":0.0294},{"x":1.45,"y":0.012},{"x":1.6,"y":0.007},{"x":2,"y":0.006},{"x":3,"y":0.006},{"x":4,"y":0.006},{"x":5,"y":0.006},{"x":5.2,"y":0.01},{"x":5.6,"y":0.009},{"x":6,"y":0.01},{"x":6.3,"y":0.007},{"x":7,"y":0.006},{"x":8,"y":0.006}]},
"layer":[
{"data":{"values":[{}]},"mark":{"type":"rule","color":"#000","strokeWidth":1.8,"clip":false},"encoding":{"x":{"datum":0},"x2":{"datum":0},"y":{"datum":0},"y2":{"datum":0.34}}},
{"data":{"values":[{}]},"mark":{"type":"rule","color":"#000","strokeWidth":1.8,"clip":false},"encoding":{"x":{"datum":0},"x2":{"datum":8},"y":{"datum":0},"y2":{"datum":0}}},
{"data":{"values":[{"v":0},{"v":0.085},{"v":0.17},{"v":0.255},{"v":0.34}]},"mark":{"type":"rule","color":"#000","strokeWidth":1.5,"clip":false},"encoding":{"y":{"field":"v","type":"quantitative"},"y2":{"field":"v"},"x":{"datum":-0.267},"x2":{"datum":0}}},
{"data":{"values":[{"v":0},{"v":1},{"v":2},{"v":3},{"v":4},{"v":5},{"v":6},{"v":7},{"v":8}]},"mark":{"type":"rule","color":"#000","strokeWidth":1.5,"clip":false},"encoding":{"x":{"field":"v","type":"quantitative"},"x2":{"field":"v"},"y":{"datum":0},"y2":{"datum":-0.01766}}},
{"mark":{"type":"line","color":"#ee8a8a","strokeWidth":2.4,"clip":false},"encoding":{"x":{"field":"x","type":"quantitative","scale":{"domain":[0,8],"nice":false,"zero":false},"axis":{"title":null,"domain":false,"ticks":false,"labelPadding":5,"labelOverlap":false,"values":[0,1,2,3,4,5,6,7,8],"labelExpr":"datum.value % 2 == 0 ? datum.label : ''"}},"y":{"field":"y","type":"quantitative","scale":{"domain":[0,0.34],"nice":false},"axis":{"title":null,"domain":false,"ticks":false,"labelPadding":5,"labelOverlap":false,"values":[0,0.085,0.17,0.255,0.34],"labelExpr":"datum.value == 0 ? '0.0' : datum.value > 0.33 ? '0.34' : ''"}}}},
{"mark":{"type":"line","color":"#c00000","strokeWidth":1.1,"clip":false},"encoding":{"x":{"field":"x","type":"quantitative"},"y":{"field":"y","type":"quantitative"}}},
{"data":{"values":[{"t":"J"}]},"mark":{"type":"text","font":"Liberation Sans","fontWeight":"bold","fontSize":14,"align":"left","baseline":"alphabetic"},"encoding":{"x":{"datum":0.44},"y":{"datum":0.2985},"text":{"field":"t"}}}
]},

{"width":120,"height":77,"data":{"values":[{"s":"r","x":0,"y":0.0008},{"s":"r","x":1,"y":0.0008},{"s":"r","x":2,"y":0.0008},{"s":"r","x":2.8,"y":0.001},{"s":"r","x":3.1,"y":0.06},{"s":"r","x":3.35,"y":0.004},{"s":"r","x":3.55,"y":0.003},{"s":"r","x":3.9,"y":0.001},{"s":"r","x":4.24,"y":0.0039},{"s":"r","x":4.6,"y":0.001},{"s":"r","x":6,"y":0.0008},{"s":"r","x":8,"y":0.0008},{"s":"r","x":10,"y":0.001},{"s":"r","x":11,"y":0.0015},{"s":"r","x":12,"y":0.0012},{"s":"r","x":13,"y":0.0018},{"s":"r","x":14,"y":0.0015},{"s":"r","x":15,"y":0.002},{"s":"r","x":15.5,"y":0.0034},{"s":"r","x":15.8,"y":0.002},{"s":"r","x":16.1,"y":0.0034},{"s":"r","x":16.5,"y":0.0015},{"s":"r","x":17.5,"y":0.0012},{"s":"r","x":18.6,"y":0.002},{"s":"r","x":18.96,"y":0.0379},{"s":"r","x":19.2,"y":0.012},{"s":"r","x":19.35,"y":0.02},{"s":"r","x":19.58,"y":0.01},{"s":"r","x":19.96,"y":0.0364},{"s":"r","x":20.3,"y":0.011},{"s":"r","x":20.6,"y":0.0522},{"s":"r","x":20.85,"y":0.008},{"s":"r","x":21.07,"y":0.0047},{"s":"r","x":21.5,"y":0.0015},{"s":"r","x":22.5,"y":0.0012},{"s":"r","x":23.5,"y":0.0015},{"s":"r","x":24.5,"y":0.001},{"s":"r","x":25.5,"y":0.0012},{"s":"r","x":26.5,"y":0.0008},{"s":"r","x":28,"y":0.001},
{"s":"g","x":0,"y":0.0112},{"s":"g","x":2.7,"y":0.0112},{"s":"g","x":3.0,"y":0.03},{"s":"g","x":3.1,"y":0.0475},{"s":"g","x":3.25,"y":0.015},{"s":"g","x":3.45,"y":0.0112},{"s":"g","x":28,"y":0.0112},
{"s":"b","x":0,"y":0.006},{"s":"b","x":2.8,"y":0.006},{"s":"b","x":3.1,"y":0.012},{"s":"b","x":3.4,"y":0.0065},{"s":"b","x":3.8,"y":0.006},{"s":"b","x":28,"y":0.006}]},
"layer":[
{"data":{"values":[{}]},"mark":{"type":"rule","color":"#000","strokeWidth":1.8,"clip":false},"encoding":{"x":{"datum":0},"x2":{"datum":0},"y":{"datum":0},"y2":{"datum":0.06}}},
{"data":{"values":[{}]},"mark":{"type":"rule","color":"#000","strokeWidth":1.8,"clip":false},"encoding":{"x":{"datum":0},"x2":{"datum":28},"y":{"datum":0},"y2":{"datum":0}}},
{"data":{"values":[{"v":0},{"v":0.015},{"v":0.03},{"v":0.045},{"v":0.06}]},"mark":{"type":"rule","color":"#000","strokeWidth":1.5,"clip":false},"encoding":{"y":{"field":"v","type":"quantitative"},"y2":{"field":"v"},"x":{"datum":-0.933},"x2":{"datum":0}}},
{"data":{"values":[{"v":0},{"v":3.5},{"v":7},{"v":10.5},{"v":14},{"v":17.5},{"v":21},{"v":24.5},{"v":28}]},"mark":{"type":"rule","color":"#000","strokeWidth":1.5,"clip":false},"encoding":{"x":{"field":"v","type":"quantitative"},"x2":{"field":"v"},"y":{"datum":0},"y2":{"datum":-0.00312}}},
{"transform":[{"filter":"datum.s == 'b'"}],"mark":{"type":"line","color":"#5b5bd6","strokeWidth":0.8,"clip":false},"encoding":{"x":{"field":"x","type":"quantitative","scale":{"domain":[0,28],"nice":false,"zero":false},"axis":{"title":null,"domain":false,"ticks":false,"labelPadding":5,"labelOverlap":false,"values":[0,3.5,7,10.5,14,17.5,21,24.5,28],"labels":false}},"y":{"field":"y","type":"quantitative","scale":{"domain":[0,0.06],"nice":false},"axis":{"title":null,"domain":false,"ticks":false,"labelPadding":5,"labelOverlap":false,"values":[0,0.015,0.03,0.045,0.06],"labelExpr":"datum.value == 0 ? '0.0' : datum.value > 0.059 ? '0.06' : ''"}}}},
{"transform":[{"filter":"datum.s == 'g'"}],"mark":{"type":"line","color":"#2e8b2e","strokeWidth":1.1,"clip":false},"encoding":{"x":{"field":"x","type":"quantitative"},"y":{"field":"y","type":"quantitative"}}},
{"transform":[{"filter":"datum.s == 'r'"}],"mark":{"type":"line","color":"#ee8a8a","strokeWidth":2.4,"clip":false},"encoding":{"x":{"field":"x","type":"quantitative"},"y":{"field":"y","type":"quantitative"}}},
{"transform":[{"filter":"datum.s == 'r'"}],"mark":{"type":"line","color":"#c00000","strokeWidth":1.1,"clip":false},"encoding":{"x":{"field":"x","type":"quantitative"},"y":{"field":"y","type":"quantitative"}}},
{"data":{"values":[{"t":"K"}]},"mark":{"type":"text","font":"Liberation Sans","fontWeight":"bold","fontSize":14,"align":"left","baseline":"alphabetic"},"encoding":{"x":{"datum":5.43},"y":{"datum":0.0514},"text":{"field":"t"}}},
{"data":{"values":[{"x":3.2,"y":0.0647,"label":"23"}]},"mark":{"type":"text","font":"Liberation Serif","fontSize":13,"align":"center","baseline":"middle"},"encoding":{"x":{"field":"x","type":"quantitative"},"y":{"field":"y","type":"quantitative"},"text":{"field":"label"}}}
]},
{"width":91,"height":77,"data":{"values":[{}]},"layer":[
{"mark":{"type":"point","shape":"M-1,-0.2L0.6,-0.2L0.6,-0.39L1,0L0.6,0.39L0.6,0.2L-1,0.2Z","size":2025,"filled":true,"opacity":1,"color":"#1c2b4f","strokeWidth":0},"encoding":{"x":{"datum":0.39,"scale":{"domain":[0,1]},"axis":null},"y":{"datum":0.494,"scale":{"domain":[0,1]},"axis":null}}},
{"mark":{"type":"text","text":"CGH","font":"Liberation Serif","fontSize":15,"align":"center","baseline":"middle"},"encoding":{"x":{"datum":0.374,"scale":{"domain":[0,1]},"axis":null},"y":{"datum":0.662,"scale":{"domain":[0,1]},"axis":null}}}
]},
{"width":120,"height":77,"data":{"values":[{"x":0,"y":0.0008},{"x":1.5,"y":0.0008},{"x":2.5,"y":0.001},{"x":2.87,"y":0.0047},{"x":3.1,"y":0.0015},{"x":3.25,"y":0.002},{"x":3.6,"y":0.001},{"x":4.1,"y":0.0047},{"x":4.4,"y":0.001},{"x":6,"y":0.0008},{"x":8,"y":0.0008},{"x":10,"y":0.0008},{"x":11,"y":0.001},{"x":12,"y":0.0012},{"x":13,"y":0.0015},{"x":14,"y":0.001},{"x":14.8,"y":0.0025},{"x":15.3,"y":0.0012},{"x":16,"y":0.0022},{"x":16.5,"y":0.0012},{"x":17.5,"y":0.0012},{"x":18.7,"y":0.0015},{"x":19.1,"y":0.037},{"x":19.3,"y":0.012},{"x":19.5,"y":0.02},{"x":19.7,"y":0.01},{"x":19.9,"y":0.035},{"x":20.1,"y":0.011},{"x":20.3,"y":0.011},{"x":20.6,"y":0.054},{"x":20.85,"y":0.008},{"x":21.1,"y":0.0047},{"x":21.5,"y":0.0012},{"x":22.5,"y":0.001},{"x":23.5,"y":0.0012},{"x":24.5,"y":0.0009},{"x":26,"y":0.001},{"x":28,"y":0.0008}]},
"layer":[
{"data":{"values":[{}]},"mark":{"type":"rule","color":"#000","strokeWidth":1.8,"clip":false},"encoding":{"x":{"datum":0},"x2":{"datum":0},"y":{"datum":0},"y2":{"datum":0.06}}},
{"data":{"values":[{}]},"mark":{"type":"rule","color":"#000","strokeWidth":1.8,"clip":false},"encoding":{"x":{"datum":0},"x2":{"datum":28},"y":{"datum":0},"y2":{"datum":0}}},
{"data":{"values":[{"v":0},{"v":0.015},{"v":0.03},{"v":0.045},{"v":0.06}]},"mark":{"type":"rule","color":"#000","strokeWidth":1.5,"clip":false},"encoding":{"y":{"field":"v","type":"quantitative"},"y2":{"field":"v"},"x":{"datum":-0.933},"x2":{"datum":0}}},
{"data":{"values":[{"v":0},{"v":3.5},{"v":7},{"v":10.5},{"v":14},{"v":17.5},{"v":21},{"v":24.5},{"v":28}]},"mark":{"type":"rule","color":"#000","strokeWidth":1.5,"clip":false},"encoding":{"x":{"field":"v","type":"quantitative"},"x2":{"field":"v"},"y":{"datum":0},"y2":{"datum":-0.00312}}},
{"mark":{"type":"line","color":"#ee8a8a","strokeWidth":2.4,"clip":false},"encoding":{"x":{"field":"x","type":"quantitative","scale":{"domain":[0,28],"nice":false,"zero":false},"axis":{"title":null,"domain":false,"ticks":false,"labelPadding":5,"labelOverlap":false,"values":[0,3.5,7,10.5,14,17.5,21,24.5,28],"labels":false}},"y":{"field":"y","type":"quantitative","scale":{"domain":[0,0.06],"nice":false},"axis":{"title":null,"domain":false,"ticks":false,"labelPadding":5,"labelOverlap":false,"values":[0,0.015,0.03,0.045,0.06],"labelExpr":"datum.value == 0 ? '0.0' : datum.value > 0.059 ? '0.06' : ''"}}}},
{"mark":{"type":"line","color":"#c00000","strokeWidth":1.1,"clip":false},"encoding":{"x":{"field":"x","type":"quantitative"},"y":{"field":"y","type":"quantitative"}}},
{"data":{"values":[{"t":"K"}]},"mark":{"type":"text","font":"Liberation Sans","fontWeight":"bold","fontSize":14,"align":"left","baseline":"alphabetic"},"encoding":{"x":{"datum":1.32},"y":{"datum":0.0514},"text":{"field":"t"}}}
]},
{"width":64,"height":99,"data":{"values":[{}]},"mark":{"type":"point","opacity":0}},
{"width":120,"height":77,"data":{"values":[{"x":8,"y":0.0004},{"x":10,"y":0.0004},{"x":11,"y":0.0005},{"x":12.0,"y":0.0008},{"x":12.5,"y":0.0005},{"x":13.2,"y":0.001},{"x":13.8,"y":0.0008},{"x":14.5,"y":0.0014},{"x":15.0,"y":0.0009},{"x":15.4,"y":0.0018},{"x":15.8,"y":0.002},{"x":16.15,"y":0.0025},{"x":16.45,"y":0.03},{"x":16.7,"y":0.0025},{"x":17.1,"y":0.0014},{"x":17.5,"y":0.0018},{"x":17.9,"y":0.001},{"x":18.2,"y":0.003},{"x":18.5,"y":0.0009},{"x":19.1,"y":0.0008},{"x":20,"y":0.0005},{"x":22,"y":0.0005},{"x":24,"y":0.0004},{"x":26,"y":0.0005},{"x":28,"y":0.0004},{"x":30,"y":0.0004},{"x":32,"y":0.0004},{"x":34,"y":0.0004},{"x":36,"y":0.0004},{"x":38,"y":0.0004},{"x":40,"y":0.0004}]},
"layer":[
{"data":{"values":[{}]},"mark":{"type":"rule","color":"#000","strokeWidth":1.8,"clip":false},"encoding":{"x":{"datum":8},"x2":{"datum":8},"y":{"datum":0},"y2":{"datum":0.03}}},
{"data":{"values":[{}]},"mark":{"type":"rule","color":"#000","strokeWidth":1.8,"clip":false},"encoding":{"x":{"datum":8},"x2":{"datum":40},"y":{"datum":0},"y2":{"datum":0}}},
{"data":{"values":[{"v":0},{"v":0.0075},{"v":0.015},{"v":0.0225},{"v":0.03}]},"mark":{"type":"rule","color":"#000","strokeWidth":1.5,"clip":false},"encoding":{"y":{"field":"v","type":"quantitative"},"y2":{"field":"v"},"x":{"datum":6.933},"x2":{"datum":8}}},
{"data":{"values":[{"v":8},{"v":12},{"v":16},{"v":20},{"v":24},{"v":28},{"v":32},{"v":36},{"v":40}]},"mark":{"type":"rule","color":"#000","strokeWidth":1.5,"clip":false},"encoding":{"x":{"field":"v","type":"quantitative"},"x2":{"field":"v"},"y":{"datum":0},"y2":{"datum":-0.00156}}},
{"mark":{"type":"line","color":"#ee8a8a","strokeWidth":2.4,"clip":false},"encoding":{"x":{"field":"x","type":"quantitative","scale":{"domain":[8,40],"nice":false,"zero":false},"axis":{"title":null,"domain":false,"ticks":false,"labelPadding":5,"labelOverlap":false,"values":[8,12,16,20,24,28,32,36,40],"labels":false}},"y":{"field":"y","type":"quantitative","scale":{"domain":[0,0.03],"nice":false},"axis":{"title":null,"domain":false,"ticks":false,"labelPadding":5,"labelOverlap":false,"values":[0,0.0075,0.015,0.0225,0.03],"labelExpr":"datum.value == 0 ? '0.0' : datum.value > 0.029 ? '0.03' : ''"}}}},
{"mark":{"type":"line","color":"#c00000","strokeWidth":1.1,"clip":false},"encoding":{"x":{"field":"x","type":"quantitative"},"y":{"field":"y","type":"quantitative"}}},
{"data":{"values":[{"t":"M"}]},"mark":{"type":"text","font":"Liberation Sans","fontWeight":"bold","fontSize":14,"align":"left","baseline":"alphabetic"},"encoding":{"x":{"datum":9.79},"y":{"datum":0.0261},"text":{"field":"t"}}},
{"data":{"values":[{"x":16.7,"y":0.0323,"label":"25"}]},"mark":{"type":"text","font":"Liberation Serif","fontSize":13,"align":"center","baseline":"middle"},"encoding":{"x":{"field":"x","type":"quantitative"},"y":{"field":"y","type":"quantitative"},"text":{"field":"label"}}}
]},
{"width":90,"height":77,"data":{"values":[{}]},"layer":[
{"mark":{"type":"point","shape":"M-1,-0.2L0.6,-0.2L0.6,-0.39L1,0L0.6,0.39L0.6,0.2L-1,0.2Z","size":2025,"filled":true,"opacity":1,"color":"#1c2b4f","strokeWidth":0},"encoding":{"x":{"datum":0.394,"scale":{"domain":[0,1]},"axis":null},"y":{"datum":0.48,"scale":{"domain":[0,1]},"axis":null}}},
{"mark":{"type":"text","text":"CGH","font":"Liberation Serif","fontSize":15,"align":"center","baseline":"middle"},"encoding":{"x":{"datum":0.383,"scale":{"domain":[0,1]},"axis":null},"y":{"datum":0.636,"scale":{"domain":[0,1]},"axis":null}}},
{"mark":{"type":"point","shape":"M-1,-0.2L0.6,-0.2L0.6,-0.39L1,0L0.6,0.39L0.6,0.2L-1,0.2Z","size":2544,"angle":39.4,"filled":true,"opacity":1,"color":"#1c2b4f","strokeWidth":0},"encoding":{"x":{"datum":0.394,"scale":{"domain":[0,1]},"axis":null},"y":{"datum":-0.169,"scale":{"domain":[0,1]},"axis":null}}},
{"mark":{"type":"text","text":"CGH","angle":39.4,"font":"Liberation Serif","fontSize":15,"align":"center","baseline":"middle"},"encoding":{"x":{"datum":0.422,"scale":{"domain":[0,1]},"axis":null},"y":{"datum":-0.013,"scale":{"domain":[0,1]},"axis":null}}}
]},
{"width":120,"height":77,"data":{"values":[{"x":8,"y":0.0004},{"x":9,"y":0.0005},{"x":10,"y":0.0008},{"x":10.5,"y":0.0006},{"x":11,"y":0.0012},{"x":11.5,"y":0.0009},{"x":11.8,"y":0.0022},{"x":12.2,"y":0.0012},{"x":12.6,"y":0.0027},{"x":13,"y":0.0012},{"x":13.5,"y":0.0018},{"x":14,"y":0.001},{"x":14.6,"y":0.0015},{"x":15.3,"y":0.0009},{"x":16,"y":0.0013},{"x":16.8,"y":0.0007},{"x":17.5,"y":0.001},{"x":18.3,"y":0.0007},{"x":19,"y":0.0005},{"x":21,"y":0.0006},{"x":23,"y":0.0004},{"x":26,"y":0.0004},{"x":30,"y":0.0004},{"x":34,"y":0.0004},{"x":37,"y":0.0004},{"x":40,"y":0.0004}]},
"layer":[
{"data":{"values":[{}]},"mark":{"type":"rule","color":"#000","strokeWidth":1.8,"clip":false},"encoding":{"x":{"datum":8},"x2":{"datum":8},"y":{"datum":0},"y2":{"datum":0.03}}},
{"data":{"values":[{}]},"mark":{"type":"rule","color":"#000","strokeWidth":1.8,"clip":false},"encoding":{"x":{"datum":8},"x2":{"datum":40},"y":{"datum":0},"y2":{"datum":0}}},
{"data":{"values":[{"v":0},{"v":0.0075},{"v":0.015},{"v":0.0225},{"v":0.03}]},"mark":{"type":"rule","color":"#000","strokeWidth":1.5,"clip":false},"encoding":{"y":{"field":"v","type":"quantitative"},"y2":{"field":"v"},"x":{"datum":6.933},"x2":{"datum":8}}},
{"data":{"values":[{"v":8},{"v":12},{"v":16},{"v":20},{"v":24},{"v":28},{"v":32},{"v":36},{"v":40}]},"mark":{"type":"rule","color":"#000","strokeWidth":1.5,"clip":false},"encoding":{"x":{"field":"v","type":"quantitative"},"x2":{"field":"v"},"y":{"datum":0},"y2":{"datum":-0.00156}}},
{"mark":{"type":"line","color":"#ee8a8a","strokeWidth":2.4,"clip":false},"encoding":{"x":{"field":"x","type":"quantitative","scale":{"domain":[8,40],"nice":false,"zero":false},"axis":{"title":null,"domain":false,"ticks":false,"labelPadding":5,"labelOverlap":false,"values":[8,12,16,20,24,28,32,36,40],"labels":false}},"y":{"field":"y","type":"quantitative","scale":{"domain":[0,0.03],"nice":false},"axis":{"title":null,"domain":false,"ticks":false,"labelPadding":5,"labelOverlap":false,"values":[0,0.0075,0.015,0.0225,0.03],"labelExpr":"datum.value == 0 ? '0.0' : datum.value > 0.029 ? '0.03' : ''"}}}},
{"mark":{"type":"line","color":"#c00000","strokeWidth":1.1,"clip":false},"encoding":{"x":{"field":"x","type":"quantitative"},"y":{"field":"y","type":"quantitative"}}},
{"data":{"values":[{"t":"M"}]},"mark":{"type":"text","font":"Liberation Sans","fontWeight":"bold","fontSize":14,"align":"left","baseline":"alphabetic"},"encoding":{"x":{"datum":9.7},"y":{"datum":0.0261},"text":{"field":"t"}}}
]},

{"width":120,"height":79,"data":{"values":[{"s":"r","x":0,"y":0.0003},{"s":"r","x":2,"y":0.0003},{"s":"r","x":2.8,"y":0.0005},{"s":"r","x":3.1,"y":0.0191},{"s":"r","x":3.35,"y":0.002},{"s":"r","x":3.55,"y":0.0013},{"s":"r","x":4,"y":0.0005},{"s":"r","x":6,"y":0.0003},{"s":"r","x":8,"y":0.0004},{"s":"r","x":10,"y":0.0005},{"s":"r","x":11,"y":0.0008},{"s":"r","x":12,"y":0.0006},{"s":"r","x":13,"y":0.001},{"s":"r","x":14,"y":0.0007},{"s":"r","x":15,"y":0.001},{"s":"r","x":16,"y":0.0008},{"s":"r","x":17,"y":0.0011},{"s":"r","x":18.2,"y":0.001},{"s":"r","x":18.56,"y":0.0159},{"s":"r","x":18.8,"y":0.003},{"s":"r","x":18.96,"y":0.0032},{"s":"r","x":19.35,"y":0.0013},{"s":"r","x":19.7,"y":0.0017},{"s":"r","x":20.2,"y":0.0008},{"s":"r","x":20.8,"y":0.0008},{"s":"r","x":21.07,"y":0.002},{"s":"r","x":21.4,"y":0.0006},{"s":"r","x":22.1,"y":0.0006},{"s":"r","x":22.43,"y":0.0191},{"s":"r","x":22.7,"y":0.0006},{"s":"r","x":23.5,"y":0.0006},{"s":"r","x":23.8,"y":0.0197},{"s":"r","x":24.1,"y":0.0006},{"s":"r","x":25,"y":0.0007},{"s":"r","x":25.9,"y":0.0021},{"s":"r","x":26.3,"y":0.0006},{"s":"r","x":27.2,"y":0.0006},{"s":"r","x":27.7,"y":0.0013},{"s":"r","x":28,"y":0.0005},
{"s":"g","x":0,"y":0.0034},{"s":"g","x":2.8,"y":0.0034},{"s":"g","x":3.0,"y":0.012},{"s":"g","x":3.1,"y":0.017},{"s":"g","x":3.25,"y":0.007},{"s":"g","x":3.45,"y":0.0035},{"s":"g","x":28,"y":0.0034},
{"s":"b","x":0,"y":0.0017},{"s":"b","x":2.9,"y":0.0017},{"s":"b","x":3.1,"y":0.004},{"s":"b","x":3.35,"y":0.0018},{"s":"b","x":28,"y":0.0017}]},
"layer":[
{"data":{"values":[{}]},"mark":{"type":"rule","color":"#000","strokeWidth":1.8,"clip":false},"encoding":{"x":{"datum":0},"x2":{"datum":0},"y":{"datum":0},"y2":{"datum":0.02}}},
{"data":{"values":[{}]},"mark":{"type":"rule","color":"#000","strokeWidth":1.8,"clip":false},"encoding":{"x":{"datum":0},"x2":{"datum":28},"y":{"datum":0},"y2":{"datum":0}}},
{"data":{"values":[{"v":0},{"v":0.005},{"v":0.01},{"v":0.015},{"v":0.02}]},"mark":{"type":"rule","color":"#000","strokeWidth":1.5,"clip":false},"encoding":{"y":{"field":"v","type":"quantitative"},"y2":{"field":"v"},"x":{"datum":-0.933},"x2":{"datum":0}}},
{"data":{"values":[{"v":0},{"v":3.5},{"v":7},{"v":10.5},{"v":14},{"v":17.5},{"v":21},{"v":24.5},{"v":28}]},"mark":{"type":"rule","color":"#000","strokeWidth":1.5,"clip":false},"encoding":{"x":{"field":"v","type":"quantitative"},"x2":{"field":"v"},"y":{"datum":0},"y2":{"datum":-0.00101}}},
{"transform":[{"filter":"datum.s == 'b'"}],"mark":{"type":"line","color":"#5b5bd6","strokeWidth":0.8,"clip":false},"encoding":{"x":{"field":"x","type":"quantitative","scale":{"domain":[0,28],"nice":false,"zero":false},"axis":{"title":null,"domain":false,"ticks":false,"labelPadding":5,"labelOverlap":false,"values":[0,3.5,7,10.5,14,17.5,21,24.5,28],"labelExpr":"datum.value % 7 == 0 ? datum.label : ''"}},"y":{"field":"y","type":"quantitative","scale":{"domain":[0,0.02],"nice":false},"axis":{"title":null,"domain":false,"ticks":false,"labelPadding":5,"labelOverlap":false,"values":[0,0.005,0.01,0.015,0.02],"labelExpr":"datum.value == 0 ? '0.0' : datum.value > 0.019 ? '0.02' : ''"}}}},
{"transform":[{"filter":"datum.s == 'g'"}],"mark":{"type":"line","color":"#2e8b2e","strokeWidth":1.1,"clip":false},"encoding":{"x":{"field":"x","type":"quantitative"},"y":{"field":"y","type":"quantitative"}}},
{"transform":[{"filter":"datum.s == 'r'"}],"mark":{"type":"line","color":"#ee8a8a","strokeWidth":2.4,"clip":false},"encoding":{"x":{"field":"x","type":"quantitative"},"y":{"field":"y","type":"quantitative"}}},
{"transform":[{"filter":"datum.s == 'r'"}],"mark":{"type":"line","color":"#c00000","strokeWidth":1.1,"clip":false},"encoding":{"x":{"field":"x","type":"quantitative"},"y":{"field":"y","type":"quantitative"}}},
{"data":{"values":[{"t":"L"}]},"mark":{"type":"text","font":"Liberation Sans","fontWeight":"bold","fontSize":14,"align":"left","baseline":"alphabetic"},"encoding":{"x":{"datum":4.8},"y":{"datum":0.0167},"text":{"field":"t"}}},
{"data":{"values":[{"x":2.97,"y":0.0205,"label":"24"}]},"mark":{"type":"text","font":"Liberation Serif","fontSize":13,"align":"center","baseline":"middle"},"encoding":{"x":{"field":"x","type":"quantitative"},"y":{"field":"y","type":"quantitative"},"text":{"field":"label"}}}
]},
{"width":91,"height":79,"data":{"values":[{}]},"layer":[
{"mark":{"type":"point","shape":"M-1,-0.2L0.6,-0.2L0.6,-0.39L1,0L0.6,0.39L0.6,0.2L-1,0.2Z","size":2025,"filled":true,"opacity":1,"color":"#1c2b4f","strokeWidth":0},"encoding":{"x":{"datum":0.39,"scale":{"domain":[0,1]},"axis":null},"y":{"datum":0.481,"scale":{"domain":[0,1]},"axis":null}}},
{"mark":{"type":"text","text":"CGH","font":"Liberation Serif","fontSize":15,"align":"center","baseline":"middle"},"encoding":{"x":{"datum":0.374,"scale":{"domain":[0,1]},"axis":null},"y":{"datum":0.646,"scale":{"domain":[0,1]},"axis":null}}}
]},
{"width":120,"height":79,"data":{"values":[{"x":0,"y":0.0003},{"x":1.5,"y":0.0003},{"x":2.4,"y":0.0005},{"x":2.72,"y":0.0063},{"x":2.95,"y":0.0022},{"x":3.1,"y":0.0021},{"x":3.5,"y":0.002},{"x":4.0,"y":0.0006},{"x":5,"y":0.0004},{"x":7,"y":0.0003},{"x":9,"y":0.0004},{"x":10,"y":0.0005},{"x":11,"y":0.0007},{"x":12,"y":0.0006},{"x":12.7,"y":0.0012},{"x":13.5,"y":0.0007},{"x":14.5,"y":0.001},{"x":15.5,"y":0.0008},{"x":16.5,"y":0.0012},{"x":17.5,"y":0.0013},{"x":18.2,"y":0.0012},{"x":18.5,"y":0.0153},{"x":18.8,"y":0.0034},{"x":19.2,"y":0.0015},{"x":20,"y":0.0009},{"x":21.0,"y":0.0017},{"x":21.4,"y":0.0007},{"x":21.95,"y":0.0008},{"x":22.2,"y":0.0161},{"x":22.45,"y":0.0008},{"x":23.5,"y":0.0008},{"x":23.75,"y":0.0189},{"x":24.0,"y":0.0008},{"x":25,"y":0.0008},{"x":25.5,"y":0.0015},{"x":25.75,"y":0.0037},{"x":26.1,"y":0.0009},{"x":27,"y":0.0006},{"x":28,"y":0.0005}]},
"layer":[
{"data":{"values":[{}]},"mark":{"type":"rule","color":"#000","strokeWidth":1.8,"clip":false},"encoding":{"x":{"datum":0},"x2":{"datum":0},"y":{"datum":0},"y2":{"datum":0.02}}},
{"data":{"values":[{}]},"mark":{"type":"rule","color":"#000","strokeWidth":1.8,"clip":false},"encoding":{"x":{"datum":0},"x2":{"datum":28},"y":{"datum":0},"y2":{"datum":0}}},
{"data":{"values":[{"v":0},{"v":0.005},{"v":0.01},{"v":0.015},{"v":0.02}]},"mark":{"type":"rule","color":"#000","strokeWidth":1.5,"clip":false},"encoding":{"y":{"field":"v","type":"quantitative"},"y2":{"field":"v"},"x":{"datum":-0.933},"x2":{"datum":0}}},
{"data":{"values":[{"v":0},{"v":3.5},{"v":7},{"v":10.5},{"v":14},{"v":17.5},{"v":21},{"v":24.5},{"v":28}]},"mark":{"type":"rule","color":"#000","strokeWidth":1.5,"clip":false},"encoding":{"x":{"field":"v","type":"quantitative"},"x2":{"field":"v"},"y":{"datum":0},"y2":{"datum":-0.00101}}},
{"mark":{"type":"line","color":"#ee8a8a","strokeWidth":2.4,"clip":false},"encoding":{"x":{"field":"x","type":"quantitative","scale":{"domain":[0,28],"nice":false,"zero":false},"axis":{"title":null,"domain":false,"ticks":false,"labelPadding":5,"labelOverlap":false,"values":[0,3.5,7,10.5,14,17.5,21,24.5,28],"labelExpr":"datum.value % 7 == 0 ? datum.label : ''"}},"y":{"field":"y","type":"quantitative","scale":{"domain":[0,0.02],"nice":false},"axis":{"title":null,"domain":false,"ticks":false,"labelPadding":5,"labelOverlap":false,"values":[0,0.005,0.01,0.015,0.02],"labelExpr":"datum.value == 0 ? '0.0' : datum.value > 0.019 ? '0.02' : ''"}}}},
{"mark":{"type":"line","color":"#c00000","strokeWidth":1.1,"clip":false},"encoding":{"x":{"field":"x","type":"quantitative"},"y":{"field":"y","type":"quantitative"}}},
{"data":{"values":[{"t":"L"}]},"mark":{"type":"text","font":"Liberation Sans","fontWeight":"bold","fontSize":14,"align":"left","baseline":"alphabetic"},"encoding":{"x":{"datum":1.32},"y":{"datum":0.0167},"text":{"field":"t"}}}
]},
{"width":64,"height":79,"data":{"values":[{}]},"mark":{"type":"point","opacity":0}},
{"width":120,"height":79,"data":{"values":[{"x":8,"y":0.0002},{"x":8.8,"y":0.0004},{"x":9.5,"y":0.0002},{"x":10.2,"y":0.0003},{"x":10.5,"y":0.002},{"x":10.77,"y":0.0042},{"x":11.0,"y":0.0028},{"x":11.1,"y":0.0033},{"x":11.3,"y":0.0018},{"x":11.5,"y":0.002},{"x":11.8,"y":0.0012},{"x":12.0,"y":0.0025},{"x":12.3,"y":0.0008},{"x":12.7,"y":0.0012},{"x":13.0,"y":0.0003},{"x":13.5,"y":0.001},{"x":14.0,"y":0.0003},{"x":14.6,"y":0.0011},{"x":15,"y":0.0002},{"x":15.5,"y":0.0008},{"x":16,"y":0.0002},{"x":16.6,"y":0.001},{"x":17.2,"y":0.0003},{"x":17.7,"y":0.0012},{"x":18.2,"y":0.0002},{"x":18.7,"y":0.0009},{"x":19.4,"y":0.0003},{"x":20.0,"y":0.0016},{"x":20.4,"y":0.0003},{"x":21,"y":0.0008},{"x":21.6,"y":0.0002},{"x":22.3,"y":0.001},{"x":22.8,"y":0.0003},{"x":23.4,"y":0.0012},{"x":24,"y":0.0002},{"x":24.6,"y":0.0008},{"x":25.2,"y":0.0003},{"x":25.8,"y":0.0006},{"x":26.4,"y":0.0002},{"x":27,"y":0.0009},{"x":27.8,"y":0.0002},{"x":28.5,"y":0.0005},{"x":29.2,"y":0.0002},{"x":30,"y":0.0012},{"x":30.5,"y":0.0002},{"x":31.2,"y":0.0008},{"x":31.8,"y":0.0003},{"x":32.6,"y":0.0013},{"x":33.2,"y":0.0002},{"x":34,"y":0.0007},{"x":34.8,"y":0.0002},{"x":35.5,"y":0.0006},{"x":36.2,"y":0.0003},{"x":37,"y":0.0011},{"x":37.6,"y":0.0005},{"x":38.3,"y":0.0009},{"x":39,"y":0.0003},{"x":39.6,"y":0.0006},{"x":40,"y":0.0002}]},
"layer":[
{"data":{"values":[{}]},"mark":{"type":"rule","color":"#000","strokeWidth":1.8,"clip":false},"encoding":{"x":{"datum":8},"x2":{"datum":8},"y":{"datum":0},"y2":{"datum":0.01}}},
{"data":{"values":[{}]},"mark":{"type":"rule","color":"#000","strokeWidth":1.8,"clip":false},"encoding":{"x":{"datum":8},"x2":{"datum":40},"y":{"datum":0},"y2":{"datum":0}}},
{"data":{"values":[{"v":0},{"v":0.0025},{"v":0.005},{"v":0.0075},{"v":0.01}]},"mark":{"type":"rule","color":"#000","strokeWidth":1.5,"clip":false},"encoding":{"y":{"field":"v","type":"quantitative"},"y2":{"field":"v"},"x":{"datum":6.933},"x2":{"datum":8}}},
{"data":{"values":[{"v":8},{"v":12},{"v":16},{"v":20},{"v":24},{"v":28},{"v":32},{"v":36},{"v":40}]},"mark":{"type":"rule","color":"#000","strokeWidth":1.5,"clip":false},"encoding":{"x":{"field":"v","type":"quantitative"},"x2":{"field":"v"},"y":{"datum":0},"y2":{"datum":-0.000506}}},
{"mark":{"type":"line","color":"#ee8a8a","strokeWidth":2.4,"clip":false},"encoding":{"x":{"field":"x","type":"quantitative","scale":{"domain":[8,40],"nice":false,"zero":false},"axis":{"title":null,"domain":false,"ticks":false,"labelPadding":5,"labelOverlap":false,"values":[8,12,16,20,24,28,32,36,40],"labelExpr":"datum.value % 8 == 0 ? datum.label : ''"}},"y":{"field":"y","type":"quantitative","scale":{"domain":[0,0.01],"nice":false},"axis":{"title":null,"domain":false,"ticks":false,"labelPadding":5,"labelOverlap":false,"values":[0,0.0025,0.005,0.0075,0.01],"labelExpr":"datum.value == 0 ? '0.0' : datum.value > 0.0099 ? '0.01' : ''"}}}},
{"mark":{"type":"line","color":"#c00000","strokeWidth":1.1,"clip":false},"encoding":{"x":{"field":"x","type":"quantitative"},"y":{"field":"y","type":"quantitative"}}},
{"data":{"values":[{"t":"N"}]},"mark":{"type":"text","font":"Liberation Sans","fontWeight":"bold","fontSize":14,"align":"left","baseline":"alphabetic"},"encoding":{"x":{"datum":9.8},"y":{"datum":0.0086},"text":{"field":"t"}}}
]},
{"width":90,"height":79,"data":{"values":[{}]},"layer":[
{"mark":{"type":"point","shape":"M-1,-0.2L0.6,-0.2L0.6,-0.39L1,0L0.6,0.39L0.6,0.2L-1,0.2Z","size":2025,"filled":true,"opacity":1,"color":"#1c2b4f","strokeWidth":0},"encoding":{"x":{"datum":0.394,"scale":{"domain":[0,1]},"axis":null},"y":{"datum":0.481,"scale":{"domain":[0,1]},"axis":null}}},
{"mark":{"type":"text","text":"CGH","font":"Liberation Serif","fontSize":15,"align":"center","baseline":"middle"},"encoding":{"x":{"datum":0.383,"scale":{"domain":[0,1]},"axis":null},"y":{"datum":0.646,"scale":{"domain":[0,1]},"axis":null}}}
]},
{"width":120,"height":79,"data":{"values":[{"x":8,"y":0.0003},{"x":9,"y":0.0004},{"x":10,"y":0.0004},{"x":10.2,"y":0.001},{"x":10.5,"y":0.003},{"x":10.7,"y":0.0016},{"x":10.9,"y":0.0025},{"x":11.1,"y":0.0012},{"x":11.3,"y":0.0047},{"x":11.55,"y":0.002},{"x":11.8,"y":0.003},{"x":12.05,"y":0.001},{"x":12.3,"y":0.0015},{"x":12.6,"y":0.0005},{"x":12.9,"y":0.0025},{"x":13.2,"y":0.0005},{"x":14,"y":0.0004},{"x":14.8,"y":0.0008},{"x":15.5,"y":0.0003},{"x":16.3,"y":0.0009},{"x":17,"y":0.0004},{"x":17.8,"y":0.0007},{"x":18.5,"y":0.0003},{"x":19.3,"y":0.0009},{"x":20.0,"y":0.0004},{"x":20.3,"y":0.0015},{"x":20.7,"y":0.0005},{"x":21.2,"y":0.002},{"x":21.6,"y":0.0004},{"x":22.3,"y":0.0011},{"x":23,"y":0.0004},{"x":23.7,"y":0.0009},{"x":24.3,"y":0.0017},{"x":24.8,"y":0.0005},{"x":25.4,"y":0.001},{"x":26.1,"y":0.0016},{"x":26.6,"y":0.0005},{"x":27.3,"y":0.0011},{"x":27.9,"y":0.0004},{"x":28.6,"y":0.0008},{"x":29.3,"y":0.0006},{"x":30.0,"y":0.0005},{"x":30.6,"y":0.0004},{"x":30.73,"y":0.01},{"x":30.86,"y":0.0004},{"x":31.5,"y":0.0012},{"x":32.0,"y":0.0019},{"x":32.5,"y":0.0006},{"x":33.2,"y":0.001},{"x":34,"y":0.0004},{"x":34.8,"y":0.0009},{"x":35.6,"y":0.0004},{"x":36.3,"y":0.0008},{"x":36.8,"y":0.0013},{"x":37.4,"y":0.0014},{"x":37.9,"y":0.0006},{"x":38.5,"y":0.0012},{"x":39,"y":0.0005},{"x":39.6,"y":0.0012},{"x":40,"y":0.0003}]},
"layer":[
{"data":{"values":[{}]},"mark":{"type":"rule","color":"#000","strokeWidth":1.8,"clip":false},"encoding":{"x":{"datum":8},"x2":{"datum":8},"y":{"datum":0},"y2":{"datum":0.01}}},
{"data":{"values":[{}]},"mark":{"type":"rule","color":"#000","strokeWidth":1.8,"clip":false},"encoding":{"x":{"datum":8},"x2":{"datum":40},"y":{"datum":0},"y2":{"datum":0}}},
{"data":{"values":[{"v":0},{"v":0.0025},{"v":0.005},{"v":0.0075},{"v":0.01}]},"mark":{"type":"rule","color":"#000","strokeWidth":1.5,"clip":false},"encoding":{"y":{"field":"v","type":"quantitative"},"y2":{"field":"v"},"x":{"datum":6.933},"x2":{"datum":8}}},
{"data":{"values":[{"v":8},{"v":12},{"v":16},{"v":20},{"v":24},{"v":28},{"v":32},{"v":36},{"v":40}]},"mark":{"type":"rule","color":"#000","strokeWidth":1.5,"clip":false},"encoding":{"x":{"field":"v","type":"quantitative"},"x2":{"field":"v"},"y":{"datum":0},"y2":{"datum":-0.000506}}},
{"mark":{"type":"line","color":"#ee8a8a","strokeWidth":2.4,"clip":false},"encoding":{"x":{"field":"x","type":"quantitative","scale":{"domain":[8,40],"nice":false,"zero":false},"axis":{"title":null,"domain":false,"ticks":false,"labelPadding":5,"labelOverlap":false,"values":[8,12,16,20,24,28,32,36,40],"labelExpr":"datum.value % 8 == 0 ? datum.label : ''"}},"y":{"field":"y","type":"quantitative","scale":{"domain":[0,0.01],"nice":false},"axis":{"title":null,"domain":false,"ticks":false,"labelPadding":5,"labelOverlap":false,"values":[0,0.0025,0.005,0.0075,0.01],"labelExpr":"datum.value == 0 ? '0.0' : datum.value > 0.0099 ? '0.01' : ''"}}}},
{"mark":{"type":"line","color":"#c00000","strokeWidth":1.1,"clip":false},"encoding":{"x":{"field":"x","type":"quantitative"},"y":{"field":"y","type":"quantitative"}}},
{"data":{"values":[{"t":"N"}]},"mark":{"type":"text","font":"Liberation Sans","fontWeight":"bold","fontSize":14,"align":"left","baseline":"alphabetic"},"encoding":{"x":{"datum":9.7},"y":{"datum":0.0086},"text":{"field":"t"}}},
{"data":{"values":[{"x":31.0,"y":0.0106,"label":"25a"}]},"mark":{"type":"text","font":"Liberation Serif","fontSize":13,"align":"center","baseline":"middle"},"encoding":{"x":{"field":"x","type":"quantitative"},"y":{"field":"y","type":"quantitative"},"text":{"field":"label"}}}
]}
]}
